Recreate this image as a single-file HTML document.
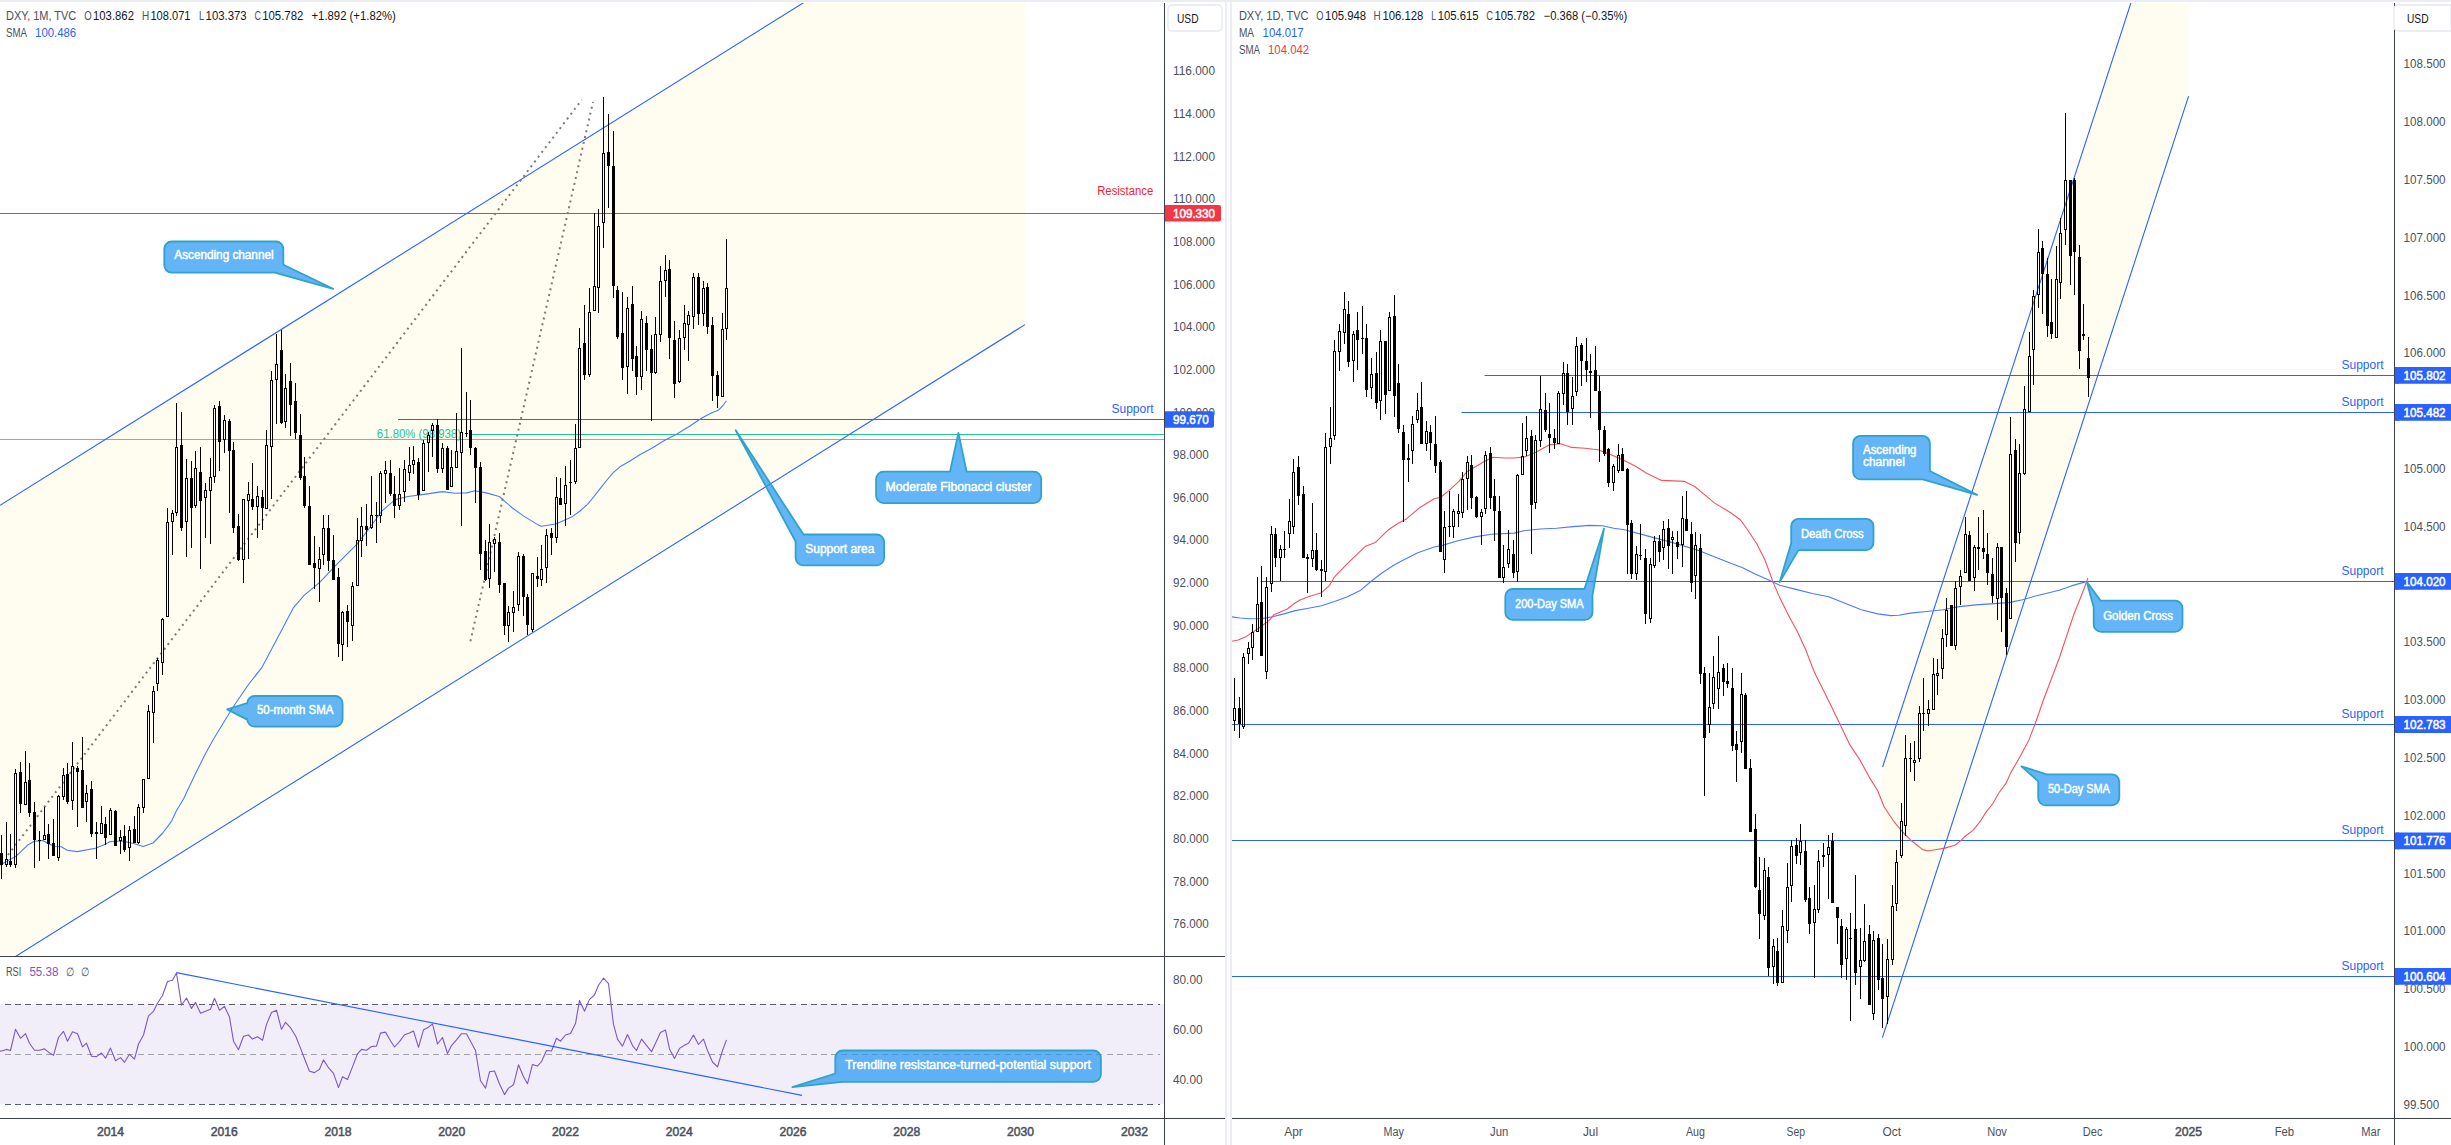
<!DOCTYPE html><html><head><meta charset="utf-8"><title>DXY</title><style>html,body{margin:0;padding:0;background:#fff}svg{display:block}</style></head><body><svg width="2451" height="1145" viewBox="0 0 2451 1145" font-family="'Liberation Sans', sans-serif">
<rect width="2451" height="1145" fill="#fff"/>
<defs><clipPath id="cl"><rect x="0" y="3" width="1164" height="953"/></clipPath><clipPath id="cr"><rect x="1232" y="3" width="1162" height="1115"/></clipPath><clipPath id="crsi"><rect x="0" y="957" width="1164" height="161"/></clipPath></defs>
<g clip-path="url(#cl)">
<polygon points="0,505.4 1025,-135.8 1025,324.6 0,966.2" fill="#fffdf0"/>
<rect x="0.0" y="213" width="1164.0" height="1" fill="#f23645"/>
<rect x="0.0" y="439" width="1164.0" height="1" fill="#8bc34a"/>
<rect x="471.6" y="434" width="692.4" height="1" fill="#26c29a"/>
<rect x="398.0" y="419" width="766.0" height="1" fill="#2962ff"/>
<line x1="0.0" y1="505.4" x2="820.0" y2="-7.6" stroke="#2962ff" stroke-width="1.1"/>
<line x1="0.0" y1="966.2" x2="1025.0" y2="324.6" stroke="#2962ff" stroke-width="1.1"/>
<line x1="8.0" y1="855.0" x2="581.8" y2="99.8" stroke="#7b7b7b" stroke-width="2" stroke-dasharray="2 4"/>
<line x1="470.4" y1="641.2" x2="593.0" y2="102.0" stroke="#7b7b7b" stroke-width="2" stroke-dasharray="2 4"/>
<text x="376.8" y="437.8" font-size="12" fill="#26c29a" font-weight="normal" text-anchor="start" textLength="84.2" lengthAdjust="spacingAndGlyphs">61.80% (98.938)</text>
<polyline points="0.0,865.1 15.9,856.3 28.2,844.7 34.3,841.3 42.8,840.6 49.0,844.0 55.0,846.5 61.2,846.7 67.3,850.2 77.1,851.6 95.5,848.3 105.3,844.3 110.2,841.6 122.4,841.0 134.6,843.8 143.2,846.5 153.0,843.0 162.8,833.0 171.4,821.4 176.3,811.0 183.6,798.8 194.6,775.5 205.6,753.5 213.0,740.0 232.6,707.7 248.5,684.5 262.0,667.3 282.0,629.5 293.5,607.6 304.1,595.3 319.7,582.3 336.0,565.1 357.2,543.9 368.7,529.2 381.7,511.2 394.8,499.8 407.9,496.5 425.8,494.1 442.2,491.6 455.2,493.3 466.7,492.9 474.8,490.8 486.3,492.9 499.3,496.5 512.4,508.0 523.8,516.1 538.5,525.1 541.2,526.2 555.9,524.0 571.6,517.1 580.0,511.0 587.5,504.3 594.0,496.5 600.3,488.4 606.5,480.5 613.0,472.9 620.8,466.2 630.0,461.0 640.2,454.5 651.4,448.5 664.3,440.5 677.0,434.0 689.5,426.2 702.3,417.8 711.8,412.8 718.2,410.3 723.0,405.5 726.4,400.8" fill="none" stroke="#4a7bff" stroke-width="1.1" stroke-linejoin="round"/>
<g shape-rendering="crispEdges">
<rect x="1" y="835" width="1" height="18" fill="#000"/>
<rect x="1" y="865" width="1" height="14" fill="#000"/>
<rect x="0" y="853" width="3" height="12" fill="#000"/>
<rect x="6" y="822" width="1" height="37" fill="#000"/>
<rect x="6" y="865" width="1" height="2" fill="#000"/>
<rect x="5.5" y="859.5" width="2" height="5" fill="none" stroke="#000" stroke-width="1"/>
<rect x="10" y="834" width="1" height="27" fill="#000"/>
<rect x="10" y="865" width="1" height="2" fill="#000"/>
<rect x="9" y="861" width="3" height="4" fill="#000"/>
<rect x="15" y="769" width="1" height="4" fill="#000"/>
<rect x="15" y="865" width="1" height="3" fill="#000"/>
<rect x="14.5" y="773.5" width="2" height="91" fill="none" stroke="#000" stroke-width="1"/>
<rect x="20" y="762" width="1" height="10" fill="#000"/>
<rect x="20" y="804" width="1" height="9" fill="#000"/>
<rect x="19" y="772" width="3" height="32" fill="#000"/>
<rect x="25" y="751" width="1" height="31" fill="#000"/>
<rect x="24.5" y="782.5" width="2" height="22" fill="none" stroke="#000" stroke-width="1"/>
<rect x="29" y="763" width="1" height="17" fill="#000"/>
<rect x="29" y="813" width="1" height="4" fill="#000"/>
<rect x="28" y="780" width="3" height="33" fill="#000"/>
<rect x="34" y="802" width="1" height="10" fill="#000"/>
<rect x="34" y="840" width="1" height="28" fill="#000"/>
<rect x="33" y="812" width="3" height="28" fill="#000"/>
<rect x="39" y="831" width="1" height="9" fill="#000"/>
<rect x="39" y="841" width="1" height="20" fill="#000"/>
<rect x="38" y="840" width="3" height="1" fill="#000"/>
<rect x="44" y="807" width="1" height="28" fill="#000"/>
<rect x="43.5" y="835.5" width="2" height="4" fill="none" stroke="#000" stroke-width="1"/>
<rect x="48" y="824" width="1" height="10" fill="#000"/>
<rect x="48" y="844" width="1" height="15" fill="#000"/>
<rect x="47" y="834" width="3" height="10" fill="#000"/>
<rect x="53" y="819" width="1" height="24" fill="#000"/>
<rect x="52" y="843" width="3" height="13" fill="#000"/>
<rect x="58" y="795" width="1" height="1" fill="#000"/>
<rect x="58" y="858" width="1" height="3" fill="#000"/>
<rect x="57.5" y="796.5" width="2" height="61" fill="none" stroke="#000" stroke-width="1"/>
<rect x="63" y="768" width="1" height="7" fill="#000"/>
<rect x="63" y="797" width="1" height="3" fill="#000"/>
<rect x="62.5" y="775.5" width="2" height="21" fill="none" stroke="#000" stroke-width="1"/>
<rect x="67" y="763" width="1" height="11" fill="#000"/>
<rect x="67" y="802" width="1" height="2" fill="#000"/>
<rect x="66" y="774" width="3" height="28" fill="#000"/>
<rect x="72" y="742" width="1" height="24" fill="#000"/>
<rect x="72" y="801" width="1" height="9" fill="#000"/>
<rect x="71.5" y="766.5" width="2" height="34" fill="none" stroke="#000" stroke-width="1"/>
<rect x="77" y="766" width="1" height="2" fill="#000"/>
<rect x="77" y="772" width="1" height="55" fill="#000"/>
<rect x="76" y="768" width="3" height="4" fill="#000"/>
<rect x="82" y="737" width="1" height="33" fill="#000"/>
<rect x="81" y="770" width="3" height="38" fill="#000"/>
<rect x="86" y="785" width="1" height="8" fill="#000"/>
<rect x="86" y="802" width="1" height="20" fill="#000"/>
<rect x="85.5" y="793.5" width="2" height="8" fill="none" stroke="#000" stroke-width="1"/>
<rect x="91" y="781" width="1" height="8" fill="#000"/>
<rect x="91" y="834" width="1" height="3" fill="#000"/>
<rect x="90" y="789" width="3" height="45" fill="#000"/>
<rect x="96" y="822" width="1" height="10" fill="#000"/>
<rect x="96" y="834" width="1" height="25" fill="#000"/>
<rect x="95" y="832" width="3" height="2" fill="#000"/>
<rect x="101" y="806" width="1" height="17" fill="#000"/>
<rect x="100.5" y="823.5" width="2" height="10" fill="none" stroke="#000" stroke-width="1"/>
<rect x="105" y="817" width="1" height="7" fill="#000"/>
<rect x="105" y="838" width="1" height="7" fill="#000"/>
<rect x="104" y="824" width="3" height="14" fill="#000"/>
<rect x="110" y="808" width="1" height="2" fill="#000"/>
<rect x="109.5" y="810.5" width="2" height="24" fill="none" stroke="#000" stroke-width="1"/>
<rect x="115" y="810" width="1" height="1" fill="#000"/>
<rect x="114" y="811" width="3" height="35" fill="#000"/>
<rect x="120" y="830" width="1" height="7" fill="#000"/>
<rect x="120" y="841" width="1" height="13" fill="#000"/>
<rect x="119.5" y="837.5" width="2" height="3" fill="none" stroke="#000" stroke-width="1"/>
<rect x="124" y="825" width="1" height="11" fill="#000"/>
<rect x="124" y="850" width="1" height="2" fill="#000"/>
<rect x="123" y="836" width="3" height="14" fill="#000"/>
<rect x="129" y="826" width="1" height="4" fill="#000"/>
<rect x="129" y="848" width="1" height="13" fill="#000"/>
<rect x="128.5" y="830.5" width="2" height="17" fill="none" stroke="#000" stroke-width="1"/>
<rect x="134" y="816" width="1" height="13" fill="#000"/>
<rect x="133" y="829" width="3" height="14" fill="#000"/>
<rect x="138" y="804" width="1" height="3" fill="#000"/>
<rect x="138" y="843" width="1" height="1" fill="#000"/>
<rect x="137.5" y="807.5" width="2" height="35" fill="none" stroke="#000" stroke-width="1"/>
<rect x="143" y="808" width="1" height="5" fill="#000"/>
<rect x="142.5" y="779.5" width="2" height="28" fill="none" stroke="#000" stroke-width="1"/>
<rect x="148" y="705" width="1" height="6" fill="#000"/>
<rect x="147.5" y="711.5" width="2" height="67" fill="none" stroke="#000" stroke-width="1"/>
<rect x="153" y="686" width="1" height="5" fill="#000"/>
<rect x="153" y="713" width="1" height="30" fill="#000"/>
<rect x="152.5" y="691.5" width="2" height="21" fill="none" stroke="#000" stroke-width="1"/>
<rect x="157" y="658" width="1" height="2" fill="#000"/>
<rect x="157" y="684" width="1" height="7" fill="#000"/>
<rect x="156.5" y="660.5" width="2" height="23" fill="none" stroke="#000" stroke-width="1"/>
<rect x="162" y="618" width="1" height="1" fill="#000"/>
<rect x="162" y="663" width="1" height="12" fill="#000"/>
<rect x="161.5" y="619.5" width="2" height="43" fill="none" stroke="#000" stroke-width="1"/>
<rect x="167" y="508" width="1" height="14" fill="#000"/>
<rect x="166.5" y="522.5" width="2" height="94" fill="none" stroke="#000" stroke-width="1"/>
<rect x="172" y="510" width="1" height="3" fill="#000"/>
<rect x="172" y="522" width="1" height="33" fill="#000"/>
<rect x="171.5" y="513.5" width="2" height="8" fill="none" stroke="#000" stroke-width="1"/>
<rect x="176" y="403" width="1" height="44" fill="#000"/>
<rect x="176" y="513" width="1" height="3" fill="#000"/>
<rect x="175.5" y="447.5" width="2" height="65" fill="none" stroke="#000" stroke-width="1"/>
<rect x="181" y="412" width="1" height="33" fill="#000"/>
<rect x="181" y="528" width="1" height="3" fill="#000"/>
<rect x="180" y="445" width="3" height="83" fill="#000"/>
<rect x="186" y="459" width="1" height="19" fill="#000"/>
<rect x="186" y="522" width="1" height="35" fill="#000"/>
<rect x="185.5" y="478.5" width="2" height="43" fill="none" stroke="#000" stroke-width="1"/>
<rect x="191" y="461" width="1" height="17" fill="#000"/>
<rect x="191" y="508" width="1" height="40" fill="#000"/>
<rect x="190" y="478" width="3" height="30" fill="#000"/>
<rect x="195" y="451" width="1" height="17" fill="#000"/>
<rect x="195" y="506" width="1" height="2" fill="#000"/>
<rect x="194.5" y="468.5" width="2" height="37" fill="none" stroke="#000" stroke-width="1"/>
<rect x="200" y="447" width="1" height="25" fill="#000"/>
<rect x="200" y="501" width="1" height="68" fill="#000"/>
<rect x="199" y="472" width="3" height="29" fill="#000"/>
<rect x="205" y="483" width="1" height="7" fill="#000"/>
<rect x="205" y="498" width="1" height="40" fill="#000"/>
<rect x="204.5" y="490.5" width="2" height="7" fill="none" stroke="#000" stroke-width="1"/>
<rect x="210" y="458" width="1" height="19" fill="#000"/>
<rect x="210" y="491" width="1" height="53" fill="#000"/>
<rect x="209.5" y="477.5" width="2" height="13" fill="none" stroke="#000" stroke-width="1"/>
<rect x="214" y="405" width="1" height="3" fill="#000"/>
<rect x="214" y="477" width="1" height="6" fill="#000"/>
<rect x="213.5" y="408.5" width="2" height="68" fill="none" stroke="#000" stroke-width="1"/>
<rect x="219" y="401" width="1" height="5" fill="#000"/>
<rect x="219" y="442" width="1" height="29" fill="#000"/>
<rect x="218" y="406" width="3" height="36" fill="#000"/>
<rect x="224" y="415" width="1" height="5" fill="#000"/>
<rect x="224" y="440" width="1" height="13" fill="#000"/>
<rect x="223.5" y="420.5" width="2" height="19" fill="none" stroke="#000" stroke-width="1"/>
<rect x="229" y="419" width="1" height="2" fill="#000"/>
<rect x="229" y="451" width="1" height="62" fill="#000"/>
<rect x="228" y="421" width="3" height="30" fill="#000"/>
<rect x="233" y="442" width="1" height="8" fill="#000"/>
<rect x="233" y="528" width="1" height="5" fill="#000"/>
<rect x="232" y="450" width="3" height="78" fill="#000"/>
<rect x="238" y="514" width="1" height="12" fill="#000"/>
<rect x="238" y="560" width="1" height="1" fill="#000"/>
<rect x="237" y="526" width="3" height="34" fill="#000"/>
<rect x="243" y="560" width="1" height="23" fill="#000"/>
<rect x="242.5" y="499.5" width="2" height="60" fill="none" stroke="#000" stroke-width="1"/>
<rect x="248" y="482" width="1" height="12" fill="#000"/>
<rect x="248" y="501" width="1" height="58" fill="#000"/>
<rect x="247.5" y="494.5" width="2" height="6" fill="none" stroke="#000" stroke-width="1"/>
<rect x="252" y="463" width="1" height="36" fill="#000"/>
<rect x="252" y="507" width="1" height="3" fill="#000"/>
<rect x="251" y="499" width="3" height="8" fill="#000"/>
<rect x="257" y="486" width="1" height="10" fill="#000"/>
<rect x="257" y="507" width="1" height="31" fill="#000"/>
<rect x="256.5" y="496.5" width="2" height="10" fill="none" stroke="#000" stroke-width="1"/>
<rect x="262" y="490" width="1" height="7" fill="#000"/>
<rect x="262" y="508" width="1" height="22" fill="#000"/>
<rect x="261" y="497" width="3" height="11" fill="#000"/>
<rect x="266" y="430" width="1" height="15" fill="#000"/>
<rect x="265.5" y="445.5" width="2" height="63" fill="none" stroke="#000" stroke-width="1"/>
<rect x="271" y="371" width="1" height="9" fill="#000"/>
<rect x="271" y="447" width="1" height="52" fill="#000"/>
<rect x="270.5" y="380.5" width="2" height="66" fill="none" stroke="#000" stroke-width="1"/>
<rect x="276" y="334" width="1" height="30" fill="#000"/>
<rect x="276" y="380" width="1" height="44" fill="#000"/>
<rect x="275.5" y="364.5" width="2" height="15" fill="none" stroke="#000" stroke-width="1"/>
<rect x="281" y="330" width="1" height="20" fill="#000"/>
<rect x="281" y="423" width="1" height="1" fill="#000"/>
<rect x="280" y="350" width="3" height="73" fill="#000"/>
<rect x="285" y="374" width="1" height="14" fill="#000"/>
<rect x="285" y="422" width="1" height="6" fill="#000"/>
<rect x="284.5" y="388.5" width="2" height="33" fill="none" stroke="#000" stroke-width="1"/>
<rect x="290" y="363" width="1" height="18" fill="#000"/>
<rect x="290" y="405" width="1" height="31" fill="#000"/>
<rect x="289" y="381" width="3" height="24" fill="#000"/>
<rect x="295" y="383" width="1" height="18" fill="#000"/>
<rect x="295" y="433" width="1" height="6" fill="#000"/>
<rect x="294" y="401" width="3" height="32" fill="#000"/>
<rect x="300" y="414" width="1" height="21" fill="#000"/>
<rect x="300" y="478" width="1" height="2" fill="#000"/>
<rect x="299" y="435" width="3" height="43" fill="#000"/>
<rect x="304" y="457" width="1" height="19" fill="#000"/>
<rect x="304" y="506" width="1" height="2" fill="#000"/>
<rect x="303" y="476" width="3" height="30" fill="#000"/>
<rect x="309" y="486" width="1" height="20" fill="#000"/>
<rect x="308" y="506" width="3" height="59" fill="#000"/>
<rect x="314" y="536" width="1" height="27" fill="#000"/>
<rect x="314" y="568" width="1" height="21" fill="#000"/>
<rect x="313" y="563" width="3" height="5" fill="#000"/>
<rect x="319" y="547" width="1" height="12" fill="#000"/>
<rect x="319" y="569" width="1" height="33" fill="#000"/>
<rect x="318.5" y="559.5" width="2" height="9" fill="none" stroke="#000" stroke-width="1"/>
<rect x="323" y="515" width="1" height="13" fill="#000"/>
<rect x="323" y="555" width="1" height="10" fill="#000"/>
<rect x="322.5" y="528.5" width="2" height="26" fill="none" stroke="#000" stroke-width="1"/>
<rect x="328" y="515" width="1" height="13" fill="#000"/>
<rect x="328" y="561" width="1" height="10" fill="#000"/>
<rect x="327" y="528" width="3" height="33" fill="#000"/>
<rect x="333" y="535" width="1" height="25" fill="#000"/>
<rect x="332" y="560" width="3" height="20" fill="#000"/>
<rect x="338" y="568" width="1" height="9" fill="#000"/>
<rect x="338" y="644" width="1" height="13" fill="#000"/>
<rect x="337" y="577" width="3" height="67" fill="#000"/>
<rect x="342" y="611" width="1" height="1" fill="#000"/>
<rect x="342" y="645" width="1" height="16" fill="#000"/>
<rect x="341.5" y="612.5" width="2" height="32" fill="none" stroke="#000" stroke-width="1"/>
<rect x="347" y="605" width="1" height="6" fill="#000"/>
<rect x="347" y="622" width="1" height="25" fill="#000"/>
<rect x="346" y="611" width="3" height="11" fill="#000"/>
<rect x="352" y="582" width="1" height="4" fill="#000"/>
<rect x="352" y="626" width="1" height="15" fill="#000"/>
<rect x="351.5" y="586.5" width="2" height="39" fill="none" stroke="#000" stroke-width="1"/>
<rect x="357" y="518" width="1" height="22" fill="#000"/>
<rect x="356.5" y="540.5" width="2" height="45" fill="none" stroke="#000" stroke-width="1"/>
<rect x="361" y="507" width="1" height="19" fill="#000"/>
<rect x="361" y="541" width="1" height="16" fill="#000"/>
<rect x="360.5" y="526.5" width="2" height="14" fill="none" stroke="#000" stroke-width="1"/>
<rect x="366" y="504" width="1" height="22" fill="#000"/>
<rect x="366" y="530" width="1" height="16" fill="#000"/>
<rect x="365" y="526" width="3" height="4" fill="#000"/>
<rect x="371" y="476" width="1" height="39" fill="#000"/>
<rect x="371" y="528" width="1" height="1" fill="#000"/>
<rect x="370.5" y="515.5" width="2" height="12" fill="none" stroke="#000" stroke-width="1"/>
<rect x="376" y="502" width="1" height="13" fill="#000"/>
<rect x="376" y="516" width="1" height="27" fill="#000"/>
<rect x="375" y="515" width="3" height="1" fill="#000"/>
<rect x="380" y="471" width="1" height="2" fill="#000"/>
<rect x="380" y="516" width="1" height="7" fill="#000"/>
<rect x="379.5" y="473.5" width="2" height="42" fill="none" stroke="#000" stroke-width="1"/>
<rect x="385" y="461" width="1" height="9" fill="#000"/>
<rect x="385" y="474" width="1" height="29" fill="#000"/>
<rect x="384.5" y="470.5" width="2" height="3" fill="none" stroke="#000" stroke-width="1"/>
<rect x="390" y="460" width="1" height="13" fill="#000"/>
<rect x="390" y="494" width="1" height="2" fill="#000"/>
<rect x="389" y="473" width="3" height="21" fill="#000"/>
<rect x="394" y="476" width="1" height="18" fill="#000"/>
<rect x="394" y="506" width="1" height="12" fill="#000"/>
<rect x="393" y="494" width="3" height="12" fill="#000"/>
<rect x="399" y="468" width="1" height="26" fill="#000"/>
<rect x="399" y="506" width="1" height="4" fill="#000"/>
<rect x="398.5" y="494.5" width="2" height="11" fill="none" stroke="#000" stroke-width="1"/>
<rect x="404" y="460" width="1" height="9" fill="#000"/>
<rect x="404" y="492" width="1" height="10" fill="#000"/>
<rect x="403.5" y="469.5" width="2" height="22" fill="none" stroke="#000" stroke-width="1"/>
<rect x="409" y="447" width="1" height="18" fill="#000"/>
<rect x="409" y="473" width="1" height="8" fill="#000"/>
<rect x="408.5" y="465.5" width="2" height="7" fill="none" stroke="#000" stroke-width="1"/>
<rect x="413" y="446" width="1" height="14" fill="#000"/>
<rect x="413" y="465" width="1" height="9" fill="#000"/>
<rect x="412.5" y="460.5" width="2" height="4" fill="none" stroke="#000" stroke-width="1"/>
<rect x="418" y="458" width="1" height="4" fill="#000"/>
<rect x="418" y="495" width="1" height="5" fill="#000"/>
<rect x="417" y="462" width="3" height="33" fill="#000"/>
<rect x="423" y="440" width="1" height="3" fill="#000"/>
<rect x="422.5" y="443.5" width="2" height="47" fill="none" stroke="#000" stroke-width="1"/>
<rect x="428" y="432" width="1" height="3" fill="#000"/>
<rect x="428" y="443" width="1" height="29" fill="#000"/>
<rect x="427.5" y="435.5" width="2" height="7" fill="none" stroke="#000" stroke-width="1"/>
<rect x="432" y="423" width="1" height="2" fill="#000"/>
<rect x="432" y="431" width="1" height="26" fill="#000"/>
<rect x="431.5" y="425.5" width="2" height="5" fill="none" stroke="#000" stroke-width="1"/>
<rect x="437" y="419" width="1" height="6" fill="#000"/>
<rect x="437" y="469" width="1" height="4" fill="#000"/>
<rect x="436" y="425" width="3" height="44" fill="#000"/>
<rect x="442" y="443" width="1" height="5" fill="#000"/>
<rect x="442" y="469" width="1" height="4" fill="#000"/>
<rect x="441.5" y="448.5" width="2" height="20" fill="none" stroke="#000" stroke-width="1"/>
<rect x="447" y="446" width="1" height="2" fill="#000"/>
<rect x="446" y="448" width="3" height="42" fill="#000"/>
<rect x="451" y="450" width="1" height="17" fill="#000"/>
<rect x="450.5" y="467.5" width="2" height="19" fill="none" stroke="#000" stroke-width="1"/>
<rect x="456" y="413" width="1" height="38" fill="#000"/>
<rect x="455.5" y="451.5" width="2" height="16" fill="none" stroke="#000" stroke-width="1"/>
<rect x="461" y="348" width="1" height="84" fill="#000"/>
<rect x="461" y="453" width="1" height="73" fill="#000"/>
<rect x="460.5" y="432.5" width="2" height="20" fill="none" stroke="#000" stroke-width="1"/>
<rect x="466" y="392" width="1" height="41" fill="#000"/>
<rect x="466" y="434" width="1" height="3" fill="#000"/>
<rect x="465" y="433" width="3" height="1" fill="#000"/>
<rect x="470" y="400" width="1" height="30" fill="#000"/>
<rect x="470" y="448" width="1" height="7" fill="#000"/>
<rect x="469" y="430" width="3" height="18" fill="#000"/>
<rect x="475" y="447" width="1" height="1" fill="#000"/>
<rect x="475" y="468" width="1" height="35" fill="#000"/>
<rect x="474" y="448" width="3" height="20" fill="#000"/>
<rect x="480" y="462" width="1" height="5" fill="#000"/>
<rect x="480" y="554" width="1" height="16" fill="#000"/>
<rect x="479" y="467" width="3" height="87" fill="#000"/>
<rect x="485" y="540" width="1" height="11" fill="#000"/>
<rect x="485" y="580" width="1" height="1" fill="#000"/>
<rect x="484" y="551" width="3" height="29" fill="#000"/>
<rect x="489" y="524" width="1" height="18" fill="#000"/>
<rect x="489" y="579" width="1" height="9" fill="#000"/>
<rect x="488.5" y="542.5" width="2" height="36" fill="none" stroke="#000" stroke-width="1"/>
<rect x="494" y="537" width="1" height="2" fill="#000"/>
<rect x="494" y="544" width="1" height="28" fill="#000"/>
<rect x="493.5" y="539.5" width="2" height="4" fill="none" stroke="#000" stroke-width="1"/>
<rect x="499" y="533" width="1" height="9" fill="#000"/>
<rect x="499" y="585" width="1" height="8" fill="#000"/>
<rect x="498" y="542" width="3" height="43" fill="#000"/>
<rect x="504" y="626" width="1" height="9" fill="#000"/>
<rect x="503" y="583" width="3" height="43" fill="#000"/>
<rect x="508" y="606" width="1" height="6" fill="#000"/>
<rect x="508" y="626" width="1" height="16" fill="#000"/>
<rect x="507.5" y="612.5" width="2" height="13" fill="none" stroke="#000" stroke-width="1"/>
<rect x="513" y="591" width="1" height="16" fill="#000"/>
<rect x="513" y="613" width="1" height="19" fill="#000"/>
<rect x="512.5" y="607.5" width="2" height="5" fill="none" stroke="#000" stroke-width="1"/>
<rect x="518" y="552" width="1" height="4" fill="#000"/>
<rect x="518" y="605" width="1" height="6" fill="#000"/>
<rect x="517.5" y="556.5" width="2" height="48" fill="none" stroke="#000" stroke-width="1"/>
<rect x="523" y="554" width="1" height="2" fill="#000"/>
<rect x="523" y="597" width="1" height="19" fill="#000"/>
<rect x="522" y="556" width="3" height="41" fill="#000"/>
<rect x="527" y="594" width="1" height="3" fill="#000"/>
<rect x="527" y="625" width="1" height="10" fill="#000"/>
<rect x="526" y="597" width="3" height="28" fill="#000"/>
<rect x="532" y="630" width="1" height="2" fill="#000"/>
<rect x="531.5" y="573.5" width="2" height="56" fill="none" stroke="#000" stroke-width="1"/>
<rect x="537" y="557" width="1" height="19" fill="#000"/>
<rect x="537" y="579" width="1" height="8" fill="#000"/>
<rect x="536" y="576" width="3" height="3" fill="#000"/>
<rect x="541" y="545" width="1" height="24" fill="#000"/>
<rect x="541" y="580" width="1" height="6" fill="#000"/>
<rect x="540.5" y="569.5" width="2" height="10" fill="none" stroke="#000" stroke-width="1"/>
<rect x="546" y="529" width="1" height="6" fill="#000"/>
<rect x="546" y="568" width="1" height="15" fill="#000"/>
<rect x="545.5" y="535.5" width="2" height="32" fill="none" stroke="#000" stroke-width="1"/>
<rect x="551" y="528" width="1" height="5" fill="#000"/>
<rect x="551" y="538" width="1" height="17" fill="#000"/>
<rect x="550" y="533" width="3" height="5" fill="#000"/>
<rect x="556" y="477" width="1" height="20" fill="#000"/>
<rect x="556" y="538" width="1" height="5" fill="#000"/>
<rect x="555.5" y="497.5" width="2" height="40" fill="none" stroke="#000" stroke-width="1"/>
<rect x="560" y="478" width="1" height="20" fill="#000"/>
<rect x="559" y="498" width="3" height="7" fill="#000"/>
<rect x="565" y="466" width="1" height="19" fill="#000"/>
<rect x="565" y="504" width="1" height="22" fill="#000"/>
<rect x="564.5" y="485.5" width="2" height="18" fill="none" stroke="#000" stroke-width="1"/>
<rect x="570" y="460" width="1" height="22" fill="#000"/>
<rect x="570" y="483" width="1" height="32" fill="#000"/>
<rect x="569" y="482" width="3" height="1" fill="#000"/>
<rect x="575" y="424" width="1" height="24" fill="#000"/>
<rect x="575" y="482" width="1" height="2" fill="#000"/>
<rect x="574.5" y="448.5" width="2" height="33" fill="none" stroke="#000" stroke-width="1"/>
<rect x="579" y="328" width="1" height="20" fill="#000"/>
<rect x="578.5" y="348.5" width="2" height="99" fill="none" stroke="#000" stroke-width="1"/>
<rect x="584" y="305" width="1" height="38" fill="#000"/>
<rect x="584" y="375" width="1" height="5" fill="#000"/>
<rect x="583" y="343" width="3" height="32" fill="#000"/>
<rect x="589" y="288" width="1" height="24" fill="#000"/>
<rect x="589" y="375" width="1" height="2" fill="#000"/>
<rect x="588.5" y="312.5" width="2" height="62" fill="none" stroke="#000" stroke-width="1"/>
<rect x="594" y="213" width="1" height="73" fill="#000"/>
<rect x="593.5" y="286.5" width="2" height="24" fill="none" stroke="#000" stroke-width="1"/>
<rect x="598" y="209" width="1" height="17" fill="#000"/>
<rect x="598" y="288" width="1" height="25" fill="#000"/>
<rect x="597.5" y="226.5" width="2" height="61" fill="none" stroke="#000" stroke-width="1"/>
<rect x="603" y="97" width="1" height="56" fill="#000"/>
<rect x="603" y="223" width="1" height="25" fill="#000"/>
<rect x="602.5" y="153.5" width="2" height="69" fill="none" stroke="#000" stroke-width="1"/>
<rect x="608" y="114" width="1" height="38" fill="#000"/>
<rect x="608" y="166" width="1" height="42" fill="#000"/>
<rect x="607" y="152" width="3" height="14" fill="#000"/>
<rect x="613" y="131" width="1" height="35" fill="#000"/>
<rect x="613" y="286" width="1" height="12" fill="#000"/>
<rect x="612" y="166" width="3" height="120" fill="#000"/>
<rect x="617" y="286" width="1" height="4" fill="#000"/>
<rect x="617" y="337" width="1" height="2" fill="#000"/>
<rect x="616" y="290" width="3" height="47" fill="#000"/>
<rect x="622" y="292" width="1" height="41" fill="#000"/>
<rect x="622" y="368" width="1" height="12" fill="#000"/>
<rect x="621" y="333" width="3" height="35" fill="#000"/>
<rect x="627" y="297" width="1" height="11" fill="#000"/>
<rect x="627" y="367" width="1" height="27" fill="#000"/>
<rect x="626.5" y="308.5" width="2" height="58" fill="none" stroke="#000" stroke-width="1"/>
<rect x="632" y="286" width="1" height="18" fill="#000"/>
<rect x="632" y="359" width="1" height="12" fill="#000"/>
<rect x="631" y="304" width="3" height="55" fill="#000"/>
<rect x="636" y="346" width="1" height="10" fill="#000"/>
<rect x="636" y="377" width="1" height="18" fill="#000"/>
<rect x="635" y="356" width="3" height="21" fill="#000"/>
<rect x="641" y="311" width="1" height="8" fill="#000"/>
<rect x="641" y="377" width="1" height="13" fill="#000"/>
<rect x="640.5" y="319.5" width="2" height="57" fill="none" stroke="#000" stroke-width="1"/>
<rect x="646" y="316" width="1" height="7" fill="#000"/>
<rect x="646" y="350" width="1" height="21" fill="#000"/>
<rect x="645" y="323" width="3" height="27" fill="#000"/>
<rect x="651" y="335" width="1" height="14" fill="#000"/>
<rect x="651" y="373" width="1" height="48" fill="#000"/>
<rect x="650" y="349" width="3" height="24" fill="#000"/>
<rect x="655" y="317" width="1" height="17" fill="#000"/>
<rect x="655" y="373" width="1" height="1" fill="#000"/>
<rect x="654.5" y="334.5" width="2" height="38" fill="none" stroke="#000" stroke-width="1"/>
<rect x="660" y="266" width="1" height="15" fill="#000"/>
<rect x="660" y="335" width="1" height="7" fill="#000"/>
<rect x="659.5" y="281.5" width="2" height="53" fill="none" stroke="#000" stroke-width="1"/>
<rect x="665" y="255" width="1" height="15" fill="#000"/>
<rect x="665" y="281" width="1" height="16" fill="#000"/>
<rect x="664.5" y="270.5" width="2" height="10" fill="none" stroke="#000" stroke-width="1"/>
<rect x="669" y="260" width="1" height="9" fill="#000"/>
<rect x="669" y="338" width="1" height="21" fill="#000"/>
<rect x="668" y="269" width="3" height="69" fill="#000"/>
<rect x="674" y="321" width="1" height="19" fill="#000"/>
<rect x="674" y="384" width="1" height="14" fill="#000"/>
<rect x="673" y="340" width="3" height="44" fill="#000"/>
<rect x="679" y="330" width="1" height="8" fill="#000"/>
<rect x="679" y="382" width="1" height="1" fill="#000"/>
<rect x="678.5" y="338.5" width="2" height="43" fill="none" stroke="#000" stroke-width="1"/>
<rect x="684" y="305" width="1" height="18" fill="#000"/>
<rect x="684" y="338" width="1" height="12" fill="#000"/>
<rect x="683.5" y="323.5" width="2" height="14" fill="none" stroke="#000" stroke-width="1"/>
<rect x="688" y="311" width="1" height="4" fill="#000"/>
<rect x="688" y="325" width="1" height="36" fill="#000"/>
<rect x="687.5" y="315.5" width="2" height="9" fill="none" stroke="#000" stroke-width="1"/>
<rect x="693" y="273" width="1" height="4" fill="#000"/>
<rect x="693" y="317" width="1" height="12" fill="#000"/>
<rect x="692.5" y="277.5" width="2" height="39" fill="none" stroke="#000" stroke-width="1"/>
<rect x="698" y="273" width="1" height="4" fill="#000"/>
<rect x="698" y="314" width="1" height="11" fill="#000"/>
<rect x="697" y="277" width="3" height="37" fill="#000"/>
<rect x="703" y="281" width="1" height="7" fill="#000"/>
<rect x="703" y="314" width="1" height="12" fill="#000"/>
<rect x="702.5" y="288.5" width="2" height="25" fill="none" stroke="#000" stroke-width="1"/>
<rect x="707" y="283" width="1" height="4" fill="#000"/>
<rect x="707" y="327" width="1" height="7" fill="#000"/>
<rect x="706" y="287" width="3" height="40" fill="#000"/>
<rect x="712" y="317" width="1" height="8" fill="#000"/>
<rect x="712" y="376" width="1" height="25" fill="#000"/>
<rect x="711" y="325" width="3" height="51" fill="#000"/>
<rect x="717" y="371" width="1" height="4" fill="#000"/>
<rect x="717" y="396" width="1" height="12" fill="#000"/>
<rect x="716" y="375" width="3" height="21" fill="#000"/>
<rect x="722" y="313" width="1" height="16" fill="#000"/>
<rect x="721.5" y="329.5" width="2" height="67" fill="none" stroke="#000" stroke-width="1"/>
<rect x="726" y="239" width="1" height="49" fill="#000"/>
<rect x="726" y="329" width="1" height="11" fill="#000"/>
<rect x="725.5" y="288.5" width="2" height="40" fill="none" stroke="#000" stroke-width="1"/>
</g>
</g>
<text x="1097.2" y="194.8" font-size="12" fill="#f5222d" font-weight="normal" text-anchor="start" textLength="56.0" lengthAdjust="spacingAndGlyphs">Resistance</text>
<text x="1111.5" y="413.0" font-size="12" fill="#2962ff" font-weight="normal" text-anchor="start" textLength="42.0" lengthAdjust="spacingAndGlyphs">Support</text>
<path d="M274.8,272.7 L171.8,272.7 A7.5,7.5 0 0 1 164.3,265.2 L164.3,249.0 A7.5,7.5 0 0 1 171.8,241.5 L275.8,241.5 A7.5,7.5 0 0 1 283.3,249.0 L283.3,264.7 L333.1,288.8 Z" fill="rgba(33,150,243,0.7)" stroke="#2fa3c9" stroke-width="1.8" stroke-linejoin="round"/>
<text x="174.3" y="259.3" font-size="12" fill="#fff" font-weight="normal" text-anchor="start" textLength="99.3" lengthAdjust="spacingAndGlyphs" stroke="#fff" stroke-width="0.45">Ascending channel</text>
<path d="M247.2,703.0 L247.2,703.5 A7.5,7.5 0 0 1 254.7,696.0 L335.1,696.0 A7.5,7.5 0 0 1 342.6,703.5 L342.6,719.1 A7.5,7.5 0 0 1 335.1,726.6 L254.7,726.6 A7.5,7.5 0 0 1 247.2,719.1 L247.2,719.6 L227.2,709.4 Z" fill="rgba(33,150,243,0.7)" stroke="#2fa3c9" stroke-width="1.8" stroke-linejoin="round"/>
<text x="256.9" y="714.2" font-size="12" fill="#fff" font-weight="normal" text-anchor="start" textLength="76.5" lengthAdjust="spacingAndGlyphs" stroke="#fff" stroke-width="0.45">50-month SMA</text>
<path d="M803.5,534.5 L876.6,534.5 A7.5,7.5 0 0 1 884.1,542.0 L884.1,557.8 A7.5,7.5 0 0 1 876.6,565.3 L803.1,565.3 A7.5,7.5 0 0 1 795.6,557.8 L795.6,541.5 L735.7,430.2 Z" fill="rgba(33,150,243,0.7)" stroke="#2fa3c9" stroke-width="1.8" stroke-linejoin="round"/>
<text x="805.3" y="553.2" font-size="12" fill="#fff" font-weight="normal" text-anchor="start" textLength="69.0" lengthAdjust="spacingAndGlyphs" stroke="#fff" stroke-width="0.45">Support area</text>
<path d="M966.6,471.7 L1033.7,471.7 A7.5,7.5 0 0 1 1041.2,479.2 L1041.2,495.6 A7.5,7.5 0 0 1 1033.7,503.1 L883.6,503.1 A7.5,7.5 0 0 1 876.1,495.6 L876.1,479.2 A7.5,7.5 0 0 1 883.6,471.7 L950.0,471.7 L958.4,432.9 Z" fill="rgba(33,150,243,0.7)" stroke="#2fa3c9" stroke-width="1.8" stroke-linejoin="round"/>
<text x="885.5" y="490.7" font-size="12" fill="#fff" font-weight="normal" text-anchor="start" textLength="146.0" lengthAdjust="spacingAndGlyphs" stroke="#fff" stroke-width="0.45">Moderate Fibonacci cluster</text>
<g clip-path="url(#crsi)">
<rect x="0" y="1004" width="1164" height="100" fill="#f2eef9"/>
<line x1="5.0" y1="1004.3" x2="1160.0" y2="1004.3" stroke="#5a5d68" stroke-width="1" stroke-dasharray="6 4.2" shape-rendering="crispEdges"/>
<line x1="5.0" y1="1054.3" x2="1160.0" y2="1054.3" stroke="#a0a2aa" stroke-width="1" stroke-dasharray="6 4.2" shape-rendering="crispEdges"/>
<line x1="5.0" y1="1104.4" x2="1160.0" y2="1104.4" stroke="#5a5d68" stroke-width="1" stroke-dasharray="6 4.2" shape-rendering="crispEdges"/>
<polyline points="-3.0,1051.3 1.5,1051.0 6.5,1049.4 10.5,1050.5 15.5,1029.3 20.5,1038.3 25.5,1033.7 29.5,1043.2 34.5,1050.2 39.5,1050.2 44.5,1048.9 48.5,1052.2 53.5,1055.4 58.5,1037.5 63.5,1031.4 67.5,1041.2 72.5,1031.8 77.5,1033.7 82.5,1046.8 86.5,1043.2 91.5,1056.3 96.5,1056.6 101.5,1053.0 105.5,1058.2 110.5,1048.1 115.5,1060.7 120.5,1057.6 124.5,1062.3 129.5,1054.3 134.5,1059.2 138.5,1044.0 143.5,1035.0 148.5,1015.8 153.5,1011.3 157.5,1003.2 162.5,995.5 167.5,981.5 172.5,980.3 176.5,973.0 181.5,1005.3 186.5,998.0 191.5,1008.4 195.5,1002.4 200.5,1013.3 205.5,1011.3 210.5,1009.2 214.5,998.3 219.5,1010.2 224.5,1006.4 229.5,1017.1 233.5,1041.2 238.5,1049.7 243.5,1036.2 248.5,1035.0 252.5,1039.1 257.5,1036.7 262.5,1040.3 266.5,1024.4 271.5,1012.5 276.5,1010.2 281.5,1029.3 285.5,1022.3 290.5,1027.7 295.5,1035.8 300.5,1048.1 304.5,1058.7 309.5,1071.3 314.5,1072.6 319.5,1069.3 323.5,1059.9 328.5,1067.7 333.5,1073.4 338.5,1087.6 342.5,1076.7 347.5,1079.5 352.5,1066.9 357.5,1053.8 361.5,1049.4 366.5,1050.2 371.5,1046.5 376.5,1046.1 380.5,1033.1 385.5,1032.1 390.5,1040.7 394.5,1047.0 399.5,1041.6 404.5,1034.7 409.5,1033.1 413.5,1030.9 418.5,1047.3 423.5,1029.8 428.5,1027.2 432.5,1023.9 437.5,1044.0 442.5,1037.5 447.5,1053.5 451.5,1045.6 456.5,1039.9 461.5,1033.7 466.5,1033.7 470.5,1041.2 475.5,1050.5 480.5,1080.8 485.5,1088.1 489.5,1071.8 494.5,1071.0 499.5,1084.0 504.5,1094.6 508.5,1088.1 513.5,1084.8 518.5,1064.8 523.5,1076.7 527.5,1083.7 532.5,1064.4 537.5,1066.1 541.5,1061.5 546.5,1050.5 551.5,1051.0 556.5,1038.3 560.5,1041.2 565.5,1035.0 570.5,1033.4 575.5,1023.6 579.5,1000.4 584.5,1011.3 589.5,999.4 594.5,995.0 598.5,985.2 603.5,978.2 608.5,983.6 613.5,1024.4 617.5,1039.1 622.5,1046.1 627.5,1034.5 632.5,1045.6 636.5,1050.5 641.5,1039.1 646.5,1045.3 651.5,1051.7 655.5,1043.2 660.5,1032.6 665.5,1030.1 669.5,1048.9 674.5,1058.4 679.5,1048.4 684.5,1045.3 688.5,1043.2 693.5,1035.0 698.5,1044.5 703.5,1039.1 707.5,1050.5 712.5,1062.0 717.5,1066.9 722.5,1050.5 726.5,1039.9" fill="none" stroke="#7e57c2" stroke-width="1.1" stroke-linejoin="round"/>
<line x1="176.4" y1="972.6" x2="802.1" y2="1095.4" stroke="#2962ff" stroke-width="1.1"/>
</g>
<path d="M835.3,1073.5 L835.3,1058.0 A7.5,7.5 0 0 1 842.8,1050.5 L1093.4,1050.5 A7.5,7.5 0 0 1 1100.9,1058.0 L1100.9,1074.3 A7.5,7.5 0 0 1 1093.4,1081.8 L842.3,1081.8 L792.3,1087.2 Z" fill="rgba(33,150,243,0.7)" stroke="#2fa3c9" stroke-width="1.8" stroke-linejoin="round"/>
<text x="845.2" y="1069.0" font-size="12" fill="#fff" font-weight="normal" text-anchor="start" textLength="245.8" lengthAdjust="spacingAndGlyphs" stroke="#fff" stroke-width="0.45">Trendline resistance-turned-potential support</text>
<text x="6.0" y="976.0" font-size="12" fill="#4c505b" font-weight="normal" text-anchor="start" textLength="15.3" lengthAdjust="spacingAndGlyphs">RSI</text>
<text x="29.4" y="976.0" font-size="12" fill="#7e57c2" font-weight="normal" text-anchor="start" textLength="29.0" lengthAdjust="spacingAndGlyphs">55.38</text>
<text x="66.0" y="976.0" font-size="12" fill="#4c505b" font-weight="normal" text-anchor="start" textLength="8.0" lengthAdjust="spacingAndGlyphs">∅</text>
<text x="81.0" y="976.0" font-size="12" fill="#4c505b" font-weight="normal" text-anchor="start" textLength="8.0" lengthAdjust="spacingAndGlyphs">∅</text>
<text x="6.0" y="20.2" font-size="12" fill="#4c505b" font-weight="normal" text-anchor="start" textLength="70.3" lengthAdjust="spacingAndGlyphs">DXY, 1M, TVC</text>
<text x="84.3" y="20.2" font-size="12" fill="#4c505b" font-weight="normal" text-anchor="start" textLength="7.4" lengthAdjust="spacingAndGlyphs">O</text>
<text x="93.0" y="20.2" font-size="12" fill="#131722" font-weight="normal" text-anchor="start" textLength="41.0" lengthAdjust="spacingAndGlyphs">103.862</text>
<text x="141.9" y="20.2" font-size="12" fill="#4c505b" font-weight="normal" text-anchor="start" textLength="7.2" lengthAdjust="spacingAndGlyphs">H</text>
<text x="150.4" y="20.2" font-size="12" fill="#131722" font-weight="normal" text-anchor="start" textLength="40.1" lengthAdjust="spacingAndGlyphs">108.071</text>
<text x="199.0" y="20.2" font-size="12" fill="#4c505b" font-weight="normal" text-anchor="start" textLength="5.2" lengthAdjust="spacingAndGlyphs">L</text>
<text x="205.6" y="20.2" font-size="12" fill="#131722" font-weight="normal" text-anchor="start" textLength="41.1" lengthAdjust="spacingAndGlyphs">103.373</text>
<text x="254.5" y="20.2" font-size="12" fill="#4c505b" font-weight="normal" text-anchor="start" textLength="6.4" lengthAdjust="spacingAndGlyphs">C</text>
<text x="262.2" y="20.2" font-size="12" fill="#131722" font-weight="normal" text-anchor="start" textLength="41.1" lengthAdjust="spacingAndGlyphs">105.782</text>
<text x="311.5" y="20.2" font-size="12" fill="#131722" font-weight="normal" text-anchor="start" textLength="84.3" lengthAdjust="spacingAndGlyphs">+1.892 (+1.82%)</text>
<text x="6.0" y="36.8" font-size="12" fill="#4c505b" font-weight="normal" text-anchor="start" textLength="21.0" lengthAdjust="spacingAndGlyphs">SMA</text>
<text x="35.1" y="36.8" font-size="12" fill="#2962ff" font-weight="normal" text-anchor="start" textLength="41.1" lengthAdjust="spacingAndGlyphs">100.486</text>
<g shape-rendering="crispEdges">
<rect x="1164" y="3" width="1" height="1142" fill="#3c404b"/>
<rect x="0" y="956" width="1225" height="1" fill="#3c404b"/>
<rect x="0" y="1118" width="1225" height="1" fill="#3c404b"/>
</g>
<text x="1173.0" y="75.3" font-size="12" fill="#4c505b" font-weight="normal" text-anchor="start" textLength="42.0" lengthAdjust="spacingAndGlyphs">116.000</text>
<text x="1173.0" y="118.0" font-size="12" fill="#4c505b" font-weight="normal" text-anchor="start" textLength="42.0" lengthAdjust="spacingAndGlyphs">114.000</text>
<text x="1173.0" y="160.6" font-size="12" fill="#4c505b" font-weight="normal" text-anchor="start" textLength="42.0" lengthAdjust="spacingAndGlyphs">112.000</text>
<text x="1173.0" y="203.2" font-size="12" fill="#4c505b" font-weight="normal" text-anchor="start" textLength="42.0" lengthAdjust="spacingAndGlyphs">110.000</text>
<text x="1173.0" y="245.9" font-size="12" fill="#4c505b" font-weight="normal" text-anchor="start" textLength="42.0" lengthAdjust="spacingAndGlyphs">108.000</text>
<text x="1173.0" y="288.6" font-size="12" fill="#4c505b" font-weight="normal" text-anchor="start" textLength="42.0" lengthAdjust="spacingAndGlyphs">106.000</text>
<text x="1173.0" y="331.2" font-size="12" fill="#4c505b" font-weight="normal" text-anchor="start" textLength="42.0" lengthAdjust="spacingAndGlyphs">104.000</text>
<text x="1173.0" y="373.9" font-size="12" fill="#4c505b" font-weight="normal" text-anchor="start" textLength="42.0" lengthAdjust="spacingAndGlyphs">102.000</text>
<text x="1173.0" y="416.5" font-size="12" fill="#4c505b" font-weight="normal" text-anchor="start" textLength="42.0" lengthAdjust="spacingAndGlyphs">100.000</text>
<text x="1173.0" y="459.1" font-size="12" fill="#4c505b" font-weight="normal" text-anchor="start" textLength="35.6" lengthAdjust="spacingAndGlyphs">98.000</text>
<text x="1173.0" y="501.8" font-size="12" fill="#4c505b" font-weight="normal" text-anchor="start" textLength="35.6" lengthAdjust="spacingAndGlyphs">96.000</text>
<text x="1173.0" y="544.4" font-size="12" fill="#4c505b" font-weight="normal" text-anchor="start" textLength="35.6" lengthAdjust="spacingAndGlyphs">94.000</text>
<text x="1173.0" y="587.1" font-size="12" fill="#4c505b" font-weight="normal" text-anchor="start" textLength="35.6" lengthAdjust="spacingAndGlyphs">92.000</text>
<text x="1173.0" y="629.7" font-size="12" fill="#4c505b" font-weight="normal" text-anchor="start" textLength="35.6" lengthAdjust="spacingAndGlyphs">90.000</text>
<text x="1173.0" y="672.4" font-size="12" fill="#4c505b" font-weight="normal" text-anchor="start" textLength="35.6" lengthAdjust="spacingAndGlyphs">88.000</text>
<text x="1173.0" y="715.0" font-size="12" fill="#4c505b" font-weight="normal" text-anchor="start" textLength="35.6" lengthAdjust="spacingAndGlyphs">86.000</text>
<text x="1173.0" y="757.7" font-size="12" fill="#4c505b" font-weight="normal" text-anchor="start" textLength="35.6" lengthAdjust="spacingAndGlyphs">84.000</text>
<text x="1173.0" y="800.3" font-size="12" fill="#4c505b" font-weight="normal" text-anchor="start" textLength="35.6" lengthAdjust="spacingAndGlyphs">82.000</text>
<text x="1173.0" y="843.0" font-size="12" fill="#4c505b" font-weight="normal" text-anchor="start" textLength="35.6" lengthAdjust="spacingAndGlyphs">80.000</text>
<text x="1173.0" y="885.6" font-size="12" fill="#4c505b" font-weight="normal" text-anchor="start" textLength="35.6" lengthAdjust="spacingAndGlyphs">78.000</text>
<text x="1173.0" y="928.3" font-size="12" fill="#4c505b" font-weight="normal" text-anchor="start" textLength="35.6" lengthAdjust="spacingAndGlyphs">76.000</text>
<text x="1173.0" y="983.7" font-size="12" fill="#4c505b" font-weight="normal" text-anchor="start" textLength="29.5" lengthAdjust="spacingAndGlyphs">80.00</text>
<text x="1173.0" y="1033.9" font-size="12" fill="#4c505b" font-weight="normal" text-anchor="start" textLength="29.5" lengthAdjust="spacingAndGlyphs">60.00</text>
<text x="1173.0" y="1084.4" font-size="12" fill="#4c505b" font-weight="normal" text-anchor="start" textLength="29.5" lengthAdjust="spacingAndGlyphs">40.00</text>
<rect x="1168" y="5" width="54" height="26" rx="4" ry="4" fill="#fff" stroke="#e6e8ee" stroke-width="1.3"/>
<text x="1177.0" y="23.2" font-size="12" fill="#131722" font-weight="normal" text-anchor="start" textLength="21.5" lengthAdjust="spacingAndGlyphs">USD</text>
<path d="M1165,205 h54 a2,2 0 0 1 2,2 v12.5 a2,2 0 0 1 -2,2 h-54 z" fill="#f23645"/>
<text x="1173.0" y="217.8" font-size="12" fill="#fff" font-weight="normal" text-anchor="start" textLength="42.0" lengthAdjust="spacingAndGlyphs" stroke="#fff" stroke-width="0.5">109.330</text>
<path d="M1165,411.3 h47 a2,2 0 0 1 2,2 v12.5 a2,2 0 0 1 -2,2 h-47 z" fill="#2962ff"/>
<text x="1173.0" y="423.7" font-size="12" fill="#fff" font-weight="normal" text-anchor="start" textLength="35.7" lengthAdjust="spacingAndGlyphs" stroke="#fff" stroke-width="0.5">99.670</text>
<text x="110.4" y="1136.0" font-size="12" fill="#4c505b" font-weight="normal" text-anchor="middle" textLength="27.0" lengthAdjust="spacingAndGlyphs" stroke="#4c505b" stroke-width="0.5">2014</text>
<text x="224.2" y="1136.0" font-size="12" fill="#4c505b" font-weight="normal" text-anchor="middle" textLength="27.0" lengthAdjust="spacingAndGlyphs" stroke="#4c505b" stroke-width="0.5">2016</text>
<text x="338.0" y="1136.0" font-size="12" fill="#4c505b" font-weight="normal" text-anchor="middle" textLength="27.0" lengthAdjust="spacingAndGlyphs" stroke="#4c505b" stroke-width="0.5">2018</text>
<text x="451.7" y="1136.0" font-size="12" fill="#4c505b" font-weight="normal" text-anchor="middle" textLength="27.0" lengthAdjust="spacingAndGlyphs" stroke="#4c505b" stroke-width="0.5">2020</text>
<text x="565.5" y="1136.0" font-size="12" fill="#4c505b" font-weight="normal" text-anchor="middle" textLength="27.0" lengthAdjust="spacingAndGlyphs" stroke="#4c505b" stroke-width="0.5">2022</text>
<text x="679.3" y="1136.0" font-size="12" fill="#4c505b" font-weight="normal" text-anchor="middle" textLength="27.0" lengthAdjust="spacingAndGlyphs" stroke="#4c505b" stroke-width="0.5">2024</text>
<text x="793.1" y="1136.0" font-size="12" fill="#4c505b" font-weight="normal" text-anchor="middle" textLength="27.0" lengthAdjust="spacingAndGlyphs" stroke="#4c505b" stroke-width="0.5">2026</text>
<text x="906.8" y="1136.0" font-size="12" fill="#4c505b" font-weight="normal" text-anchor="middle" textLength="27.0" lengthAdjust="spacingAndGlyphs" stroke="#4c505b" stroke-width="0.5">2028</text>
<text x="1020.6" y="1136.0" font-size="12" fill="#4c505b" font-weight="normal" text-anchor="middle" textLength="27.0" lengthAdjust="spacingAndGlyphs" stroke="#4c505b" stroke-width="0.5">2030</text>
<text x="1134.4" y="1136.0" font-size="12" fill="#4c505b" font-weight="normal" text-anchor="middle" textLength="27.0" lengthAdjust="spacingAndGlyphs" stroke="#4c505b" stroke-width="0.5">2032</text>
<rect x="1225" y="0" width="2" height="1145" fill="#eceef3"/>
<rect x="1230" y="0" width="2" height="1145" fill="#eceef3"/>
<rect x="0" y="0" width="2451" height="2" fill="#ecedf2"/>
<g clip-path="url(#cr)">
<polygon points="1882.5,767.3 2188.6,-174.6 2188.6,96.1 1882.5,1037.4" fill="#fffdf0"/>
<rect x="1484.6" y="375" width="909.4" height="1" fill="#2962ff"/>
<rect x="1461.5" y="412" width="932.5" height="1" fill="#2962ff"/>
<rect x="1260.5" y="581" width="1133.5" height="1" fill="#2962ff"/>
<rect x="1232.0" y="724" width="1162.0" height="1" fill="#2962ff"/>
<rect x="1232.0" y="840" width="1162.0" height="1" fill="#2962ff"/>
<rect x="1232.0" y="976" width="1162.0" height="1" fill="#2962ff"/>
<line x1="1882.6" y1="767.0" x2="2135.0" y2="-9.6" stroke="#2962ff" stroke-width="1.1"/>
<line x1="1882.4" y1="1037.7" x2="2188.6" y2="96.1" stroke="#2962ff" stroke-width="1.1"/>
<polyline points="1231.6,616.8 1239.8,618.0 1249.6,618.8 1262.7,618.5 1272.5,616.8 1283.9,613.9 1295.3,610.6 1308.4,608.2 1321.5,605.7 1334.5,601.6 1347.6,596.7 1360.7,590.2 1372.1,580.5 1381.9,573.0 1393.3,565.5 1401.5,560.9 1417.8,552.7 1434.2,547.0 1442.3,545.4 1458.7,540.5 1475.0,536.9 1491.3,534.3 1514.2,533.1 1524.0,530.7 1540.3,529.0 1556.7,528.2 1573.0,526.6 1589.3,525.4 1602.4,525.8 1613.8,528.2 1624.5,529.8 1649.0,536.4 1673.5,542.9 1698.0,550.2 1714.3,556.8 1730.7,563.3 1742.1,567.4 1755.2,573.9 1771.5,581.3 1779.7,585.3 1796.0,589.4 1812.3,593.5 1828.7,596.8 1845.0,603.3 1861.3,609.8 1877.7,613.9 1890.7,615.6 1898.9,615.2 1910.3,613.1 1926.7,611.5 1943.0,609.8 1959.3,606.6 1975.7,604.9 1997.9,603.4 2010.2,602.4 2022.4,599.7 2034.6,596.3 2046.9,593.2 2059.1,590.2 2071.4,585.9 2086.0,581.6" fill="none" stroke="#4a7bff" stroke-width="1.1" stroke-linejoin="round"/>
<polyline points="1231.6,641.3 1238.2,640.0 1246.3,636.4 1254.5,631.0 1262.7,625.3 1269.2,620.4 1274.1,614.7 1287.2,609.0 1295.3,602.8 1300.2,600.0 1308.4,596.7 1321.5,592.7 1329.6,585.3 1334.5,576.8 1347.6,563.3 1365.6,546.2 1375.4,542.4 1388.4,529.8 1398.2,523.3 1406.4,518.9 1419.5,507.8 1434.2,498.8 1440.7,497.2 1448.9,490.6 1458.7,481.7 1466.8,471.9 1475.0,467.0 1484.8,461.2 1493.0,457.2 1504.4,458.0 1514.2,458.0 1524.5,456.9 1535.9,452.3 1549.0,444.9 1560.4,443.8 1571.9,447.4 1584.9,448.2 1598.0,449.8 1611.1,454.7 1624.1,460.5 1635.6,466.2 1647.0,473.5 1661.7,480.4 1673.1,480.9 1684.6,481.4 1694.7,486.5 1704.5,494.7 1714.3,502.9 1730.7,512.7 1740.5,520.0 1747.0,529.0 1756.8,543.7 1765.0,560.0 1773.1,582.1 1779.7,597.6 1789.5,617.2 1797.6,631.9 1805.8,649.9 1812.3,667.0 1815.6,674.7 1823.8,691.0 1831.9,707.4 1840.1,724.5 1849.9,744.9 1859.7,759.6 1869.5,777.6 1877.7,790.7 1884.2,807.0 1894.0,821.7 1902.2,831.5 1910.3,839.7 1918.5,846.2 1922.2,849.4 1927.9,851.0 1935.2,849.7 1945.0,848.1 1954.8,845.3 1961.4,840.1 1964.5,836.8 1973.0,830.4 1980.4,821.2 1986.5,811.4 1992.6,804.0 1998.8,793.0 2006.1,783.2 2010.4,773.4 2019.6,757.5 2028.7,740.4 2034.9,724.5 2043.4,700.0 2059.1,658.5 2073.8,614.5 2083.6,590.0 2087.9,577.9" fill="none" stroke="#f4525f" stroke-width="1.1" stroke-linejoin="round"/>
<g shape-rendering="crispEdges">
<rect x="1234" y="678" width="1" height="30" fill="#000"/>
<rect x="1234" y="721" width="1" height="10" fill="#000"/>
<rect x="1233.5" y="708.5" width="2" height="12" fill="none" stroke="#000" stroke-width="1"/>
<rect x="1239" y="697" width="1" height="11" fill="#000"/>
<rect x="1239" y="724" width="1" height="14" fill="#000"/>
<rect x="1238" y="708" width="3" height="16" fill="#000"/>
<rect x="1243" y="653" width="1" height="4" fill="#000"/>
<rect x="1243" y="727" width="1" height="2" fill="#000"/>
<rect x="1242.5" y="657.5" width="2" height="69" fill="none" stroke="#000" stroke-width="1"/>
<rect x="1248" y="642" width="1" height="6" fill="#000"/>
<rect x="1248" y="654" width="1" height="10" fill="#000"/>
<rect x="1247.5" y="648.5" width="2" height="5" fill="none" stroke="#000" stroke-width="1"/>
<rect x="1252" y="624" width="1" height="8" fill="#000"/>
<rect x="1252" y="648" width="1" height="12" fill="#000"/>
<rect x="1251.5" y="632.5" width="2" height="15" fill="none" stroke="#000" stroke-width="1"/>
<rect x="1257" y="577" width="1" height="27" fill="#000"/>
<rect x="1256.5" y="604.5" width="2" height="27" fill="none" stroke="#000" stroke-width="1"/>
<rect x="1261" y="566" width="1" height="36" fill="#000"/>
<rect x="1260" y="602" width="3" height="54" fill="#000"/>
<rect x="1266" y="577" width="1" height="10" fill="#000"/>
<rect x="1266" y="672" width="1" height="7" fill="#000"/>
<rect x="1265.5" y="587.5" width="2" height="84" fill="none" stroke="#000" stroke-width="1"/>
<rect x="1271" y="526" width="1" height="8" fill="#000"/>
<rect x="1271" y="584" width="1" height="8" fill="#000"/>
<rect x="1270.5" y="534.5" width="2" height="49" fill="none" stroke="#000" stroke-width="1"/>
<rect x="1275" y="528" width="1" height="6" fill="#000"/>
<rect x="1275" y="558" width="1" height="9" fill="#000"/>
<rect x="1274" y="534" width="3" height="24" fill="#000"/>
<rect x="1280" y="545" width="1" height="4" fill="#000"/>
<rect x="1280" y="558" width="1" height="23" fill="#000"/>
<rect x="1279.5" y="549.5" width="2" height="8" fill="none" stroke="#000" stroke-width="1"/>
<rect x="1284" y="531" width="1" height="18" fill="#000"/>
<rect x="1284" y="550" width="1" height="8" fill="#000"/>
<rect x="1283" y="549" width="3" height="1" fill="#000"/>
<rect x="1289" y="499" width="1" height="22" fill="#000"/>
<rect x="1289" y="534" width="1" height="14" fill="#000"/>
<rect x="1288.5" y="521.5" width="2" height="12" fill="none" stroke="#000" stroke-width="1"/>
<rect x="1293" y="459" width="1" height="13" fill="#000"/>
<rect x="1293" y="527" width="1" height="7" fill="#000"/>
<rect x="1292.5" y="472.5" width="2" height="54" fill="none" stroke="#000" stroke-width="1"/>
<rect x="1298" y="456" width="1" height="11" fill="#000"/>
<rect x="1298" y="496" width="1" height="9" fill="#000"/>
<rect x="1297" y="467" width="3" height="29" fill="#000"/>
<rect x="1303" y="486" width="1" height="8" fill="#000"/>
<rect x="1302" y="494" width="3" height="64" fill="#000"/>
<rect x="1307" y="554" width="1" height="3" fill="#000"/>
<rect x="1307" y="559" width="1" height="34" fill="#000"/>
<rect x="1306" y="557" width="3" height="2" fill="#000"/>
<rect x="1312" y="503" width="1" height="47" fill="#000"/>
<rect x="1312" y="559" width="1" height="8" fill="#000"/>
<rect x="1311.5" y="550.5" width="2" height="8" fill="none" stroke="#000" stroke-width="1"/>
<rect x="1316" y="533" width="1" height="17" fill="#000"/>
<rect x="1316" y="570" width="1" height="1" fill="#000"/>
<rect x="1315" y="550" width="3" height="20" fill="#000"/>
<rect x="1321" y="560" width="1" height="9" fill="#000"/>
<rect x="1321" y="571" width="1" height="26" fill="#000"/>
<rect x="1320" y="569" width="3" height="2" fill="#000"/>
<rect x="1325" y="433" width="1" height="14" fill="#000"/>
<rect x="1325" y="572" width="1" height="9" fill="#000"/>
<rect x="1324.5" y="447.5" width="2" height="124" fill="none" stroke="#000" stroke-width="1"/>
<rect x="1330" y="407" width="1" height="31" fill="#000"/>
<rect x="1330" y="447" width="1" height="17" fill="#000"/>
<rect x="1329.5" y="438.5" width="2" height="8" fill="none" stroke="#000" stroke-width="1"/>
<rect x="1334" y="340" width="1" height="11" fill="#000"/>
<rect x="1334" y="436" width="1" height="4" fill="#000"/>
<rect x="1333.5" y="351.5" width="2" height="84" fill="none" stroke="#000" stroke-width="1"/>
<rect x="1339" y="324" width="1" height="7" fill="#000"/>
<rect x="1339" y="352" width="1" height="19" fill="#000"/>
<rect x="1338.5" y="331.5" width="2" height="20" fill="none" stroke="#000" stroke-width="1"/>
<rect x="1344" y="292" width="1" height="17" fill="#000"/>
<rect x="1344" y="333" width="1" height="11" fill="#000"/>
<rect x="1343.5" y="309.5" width="2" height="23" fill="none" stroke="#000" stroke-width="1"/>
<rect x="1348" y="301" width="1" height="13" fill="#000"/>
<rect x="1348" y="362" width="1" height="5" fill="#000"/>
<rect x="1347" y="314" width="3" height="48" fill="#000"/>
<rect x="1353" y="331" width="1" height="3" fill="#000"/>
<rect x="1353" y="361" width="1" height="21" fill="#000"/>
<rect x="1352.5" y="334.5" width="2" height="26" fill="none" stroke="#000" stroke-width="1"/>
<rect x="1357" y="312" width="1" height="18" fill="#000"/>
<rect x="1357" y="340" width="1" height="30" fill="#000"/>
<rect x="1356" y="330" width="3" height="10" fill="#000"/>
<rect x="1362" y="306" width="1" height="32" fill="#000"/>
<rect x="1362" y="339" width="1" height="15" fill="#000"/>
<rect x="1361" y="338" width="3" height="1" fill="#000"/>
<rect x="1366" y="324" width="1" height="14" fill="#000"/>
<rect x="1366" y="390" width="1" height="7" fill="#000"/>
<rect x="1365" y="338" width="3" height="52" fill="#000"/>
<rect x="1371" y="358" width="1" height="16" fill="#000"/>
<rect x="1371" y="388" width="1" height="11" fill="#000"/>
<rect x="1370.5" y="374.5" width="2" height="13" fill="none" stroke="#000" stroke-width="1"/>
<rect x="1376" y="352" width="1" height="21" fill="#000"/>
<rect x="1376" y="403" width="1" height="6" fill="#000"/>
<rect x="1375" y="373" width="3" height="30" fill="#000"/>
<rect x="1380" y="330" width="1" height="11" fill="#000"/>
<rect x="1380" y="401" width="1" height="19" fill="#000"/>
<rect x="1379.5" y="341.5" width="2" height="59" fill="none" stroke="#000" stroke-width="1"/>
<rect x="1385" y="395" width="1" height="19" fill="#000"/>
<rect x="1384" y="341" width="3" height="54" fill="#000"/>
<rect x="1389" y="312" width="1" height="5" fill="#000"/>
<rect x="1388.5" y="317.5" width="2" height="73" fill="none" stroke="#000" stroke-width="1"/>
<rect x="1394" y="295" width="1" height="21" fill="#000"/>
<rect x="1394" y="396" width="1" height="21" fill="#000"/>
<rect x="1393" y="316" width="3" height="80" fill="#000"/>
<rect x="1398" y="364" width="1" height="19" fill="#000"/>
<rect x="1398" y="429" width="1" height="4" fill="#000"/>
<rect x="1397" y="383" width="3" height="46" fill="#000"/>
<rect x="1403" y="425" width="1" height="7" fill="#000"/>
<rect x="1403" y="460" width="1" height="62" fill="#000"/>
<rect x="1402" y="432" width="3" height="28" fill="#000"/>
<rect x="1408" y="444" width="1" height="14" fill="#000"/>
<rect x="1408" y="460" width="1" height="22" fill="#000"/>
<rect x="1407" y="458" width="3" height="2" fill="#000"/>
<rect x="1412" y="416" width="1" height="8" fill="#000"/>
<rect x="1412" y="451" width="1" height="13" fill="#000"/>
<rect x="1411.5" y="424.5" width="2" height="26" fill="none" stroke="#000" stroke-width="1"/>
<rect x="1417" y="393" width="1" height="17" fill="#000"/>
<rect x="1417" y="420" width="1" height="3" fill="#000"/>
<rect x="1416.5" y="410.5" width="2" height="9" fill="none" stroke="#000" stroke-width="1"/>
<rect x="1421" y="382" width="1" height="25" fill="#000"/>
<rect x="1420" y="407" width="3" height="37" fill="#000"/>
<rect x="1426" y="421" width="1" height="10" fill="#000"/>
<rect x="1426" y="444" width="1" height="7" fill="#000"/>
<rect x="1425.5" y="431.5" width="2" height="12" fill="none" stroke="#000" stroke-width="1"/>
<rect x="1430" y="425" width="1" height="7" fill="#000"/>
<rect x="1430" y="443" width="1" height="17" fill="#000"/>
<rect x="1429" y="432" width="3" height="11" fill="#000"/>
<rect x="1435" y="416" width="1" height="28" fill="#000"/>
<rect x="1435" y="466" width="1" height="7" fill="#000"/>
<rect x="1434" y="444" width="3" height="22" fill="#000"/>
<rect x="1440" y="460" width="1" height="2" fill="#000"/>
<rect x="1439" y="462" width="3" height="90" fill="#000"/>
<rect x="1444" y="511" width="1" height="16" fill="#000"/>
<rect x="1444" y="560" width="1" height="13" fill="#000"/>
<rect x="1443.5" y="527.5" width="2" height="32" fill="none" stroke="#000" stroke-width="1"/>
<rect x="1449" y="491" width="1" height="35" fill="#000"/>
<rect x="1449" y="527" width="1" height="10" fill="#000"/>
<rect x="1448" y="526" width="3" height="1" fill="#000"/>
<rect x="1453" y="509" width="1" height="2" fill="#000"/>
<rect x="1453" y="527" width="1" height="11" fill="#000"/>
<rect x="1452.5" y="511.5" width="2" height="15" fill="none" stroke="#000" stroke-width="1"/>
<rect x="1458" y="494" width="1" height="17" fill="#000"/>
<rect x="1458" y="514" width="1" height="13" fill="#000"/>
<rect x="1457.5" y="511.5" width="2" height="2" fill="none" stroke="#000" stroke-width="1"/>
<rect x="1462" y="472" width="1" height="7" fill="#000"/>
<rect x="1462" y="513" width="1" height="5" fill="#000"/>
<rect x="1461.5" y="479.5" width="2" height="33" fill="none" stroke="#000" stroke-width="1"/>
<rect x="1467" y="456" width="1" height="6" fill="#000"/>
<rect x="1467" y="479" width="1" height="31" fill="#000"/>
<rect x="1466.5" y="462.5" width="2" height="16" fill="none" stroke="#000" stroke-width="1"/>
<rect x="1471" y="455" width="1" height="10" fill="#000"/>
<rect x="1471" y="498" width="1" height="11" fill="#000"/>
<rect x="1470" y="465" width="3" height="33" fill="#000"/>
<rect x="1476" y="496" width="1" height="1" fill="#000"/>
<rect x="1476" y="517" width="1" height="1" fill="#000"/>
<rect x="1475" y="497" width="3" height="20" fill="#000"/>
<rect x="1481" y="509" width="1" height="3" fill="#000"/>
<rect x="1481" y="517" width="1" height="28" fill="#000"/>
<rect x="1480.5" y="512.5" width="2" height="4" fill="none" stroke="#000" stroke-width="1"/>
<rect x="1485" y="451" width="1" height="4" fill="#000"/>
<rect x="1485" y="509" width="1" height="5" fill="#000"/>
<rect x="1484.5" y="455.5" width="2" height="53" fill="none" stroke="#000" stroke-width="1"/>
<rect x="1490" y="447" width="1" height="6" fill="#000"/>
<rect x="1490" y="498" width="1" height="11" fill="#000"/>
<rect x="1489" y="453" width="3" height="45" fill="#000"/>
<rect x="1494" y="479" width="1" height="17" fill="#000"/>
<rect x="1494" y="511" width="1" height="30" fill="#000"/>
<rect x="1493" y="496" width="3" height="15" fill="#000"/>
<rect x="1499" y="496" width="1" height="15" fill="#000"/>
<rect x="1498" y="511" width="3" height="67" fill="#000"/>
<rect x="1503" y="545" width="1" height="22" fill="#000"/>
<rect x="1503" y="578" width="1" height="5" fill="#000"/>
<rect x="1502.5" y="567.5" width="2" height="10" fill="none" stroke="#000" stroke-width="1"/>
<rect x="1508" y="530" width="1" height="19" fill="#000"/>
<rect x="1508" y="564" width="1" height="4" fill="#000"/>
<rect x="1507.5" y="549.5" width="2" height="14" fill="none" stroke="#000" stroke-width="1"/>
<rect x="1513" y="540" width="1" height="14" fill="#000"/>
<rect x="1513" y="573" width="1" height="5" fill="#000"/>
<rect x="1512" y="554" width="3" height="19" fill="#000"/>
<rect x="1517" y="474" width="1" height="1" fill="#000"/>
<rect x="1517" y="572" width="1" height="10" fill="#000"/>
<rect x="1516.5" y="475.5" width="2" height="96" fill="none" stroke="#000" stroke-width="1"/>
<rect x="1522" y="423" width="1" height="33" fill="#000"/>
<rect x="1521.5" y="456.5" width="2" height="18" fill="none" stroke="#000" stroke-width="1"/>
<rect x="1526" y="416" width="1" height="22" fill="#000"/>
<rect x="1526" y="451" width="1" height="5" fill="#000"/>
<rect x="1525.5" y="438.5" width="2" height="12" fill="none" stroke="#000" stroke-width="1"/>
<rect x="1531" y="430" width="1" height="6" fill="#000"/>
<rect x="1531" y="505" width="1" height="49" fill="#000"/>
<rect x="1530" y="436" width="3" height="69" fill="#000"/>
<rect x="1535" y="435" width="1" height="5" fill="#000"/>
<rect x="1535" y="503" width="1" height="6" fill="#000"/>
<rect x="1534.5" y="440.5" width="2" height="62" fill="none" stroke="#000" stroke-width="1"/>
<rect x="1540" y="376" width="1" height="33" fill="#000"/>
<rect x="1540" y="441" width="1" height="6" fill="#000"/>
<rect x="1539.5" y="409.5" width="2" height="31" fill="none" stroke="#000" stroke-width="1"/>
<rect x="1545" y="393" width="1" height="17" fill="#000"/>
<rect x="1545" y="430" width="1" height="2" fill="#000"/>
<rect x="1544" y="410" width="3" height="20" fill="#000"/>
<rect x="1549" y="403" width="1" height="31" fill="#000"/>
<rect x="1549" y="438" width="1" height="15" fill="#000"/>
<rect x="1548" y="434" width="3" height="4" fill="#000"/>
<rect x="1554" y="429" width="1" height="9" fill="#000"/>
<rect x="1554" y="443" width="1" height="6" fill="#000"/>
<rect x="1553" y="438" width="3" height="5" fill="#000"/>
<rect x="1558" y="391" width="1" height="2" fill="#000"/>
<rect x="1557.5" y="393.5" width="2" height="50" fill="none" stroke="#000" stroke-width="1"/>
<rect x="1563" y="362" width="1" height="11" fill="#000"/>
<rect x="1563" y="394" width="1" height="11" fill="#000"/>
<rect x="1562.5" y="373.5" width="2" height="20" fill="none" stroke="#000" stroke-width="1"/>
<rect x="1567" y="364" width="1" height="9" fill="#000"/>
<rect x="1567" y="412" width="1" height="13" fill="#000"/>
<rect x="1566" y="373" width="3" height="39" fill="#000"/>
<rect x="1572" y="377" width="1" height="19" fill="#000"/>
<rect x="1572" y="409" width="1" height="16" fill="#000"/>
<rect x="1571.5" y="396.5" width="2" height="12" fill="none" stroke="#000" stroke-width="1"/>
<rect x="1576" y="337" width="1" height="9" fill="#000"/>
<rect x="1576" y="392" width="1" height="4" fill="#000"/>
<rect x="1575.5" y="346.5" width="2" height="45" fill="none" stroke="#000" stroke-width="1"/>
<rect x="1581" y="343" width="1" height="2" fill="#000"/>
<rect x="1581" y="361" width="1" height="25" fill="#000"/>
<rect x="1580" y="345" width="3" height="16" fill="#000"/>
<rect x="1586" y="338" width="1" height="23" fill="#000"/>
<rect x="1586" y="370" width="1" height="12" fill="#000"/>
<rect x="1585" y="361" width="3" height="9" fill="#000"/>
<rect x="1590" y="354" width="1" height="17" fill="#000"/>
<rect x="1590" y="373" width="1" height="45" fill="#000"/>
<rect x="1589" y="371" width="3" height="2" fill="#000"/>
<rect x="1595" y="346" width="1" height="24" fill="#000"/>
<rect x="1594" y="370" width="3" height="21" fill="#000"/>
<rect x="1599" y="376" width="1" height="15" fill="#000"/>
<rect x="1599" y="430" width="1" height="32" fill="#000"/>
<rect x="1598" y="391" width="3" height="39" fill="#000"/>
<rect x="1604" y="426" width="1" height="4" fill="#000"/>
<rect x="1604" y="454" width="1" height="2" fill="#000"/>
<rect x="1603" y="430" width="3" height="24" fill="#000"/>
<rect x="1608" y="448" width="1" height="1" fill="#000"/>
<rect x="1608" y="483" width="1" height="4" fill="#000"/>
<rect x="1607" y="449" width="3" height="34" fill="#000"/>
<rect x="1613" y="464" width="1" height="2" fill="#000"/>
<rect x="1613" y="483" width="1" height="8" fill="#000"/>
<rect x="1612.5" y="466.5" width="2" height="16" fill="none" stroke="#000" stroke-width="1"/>
<rect x="1618" y="444" width="1" height="11" fill="#000"/>
<rect x="1618" y="471" width="1" height="2" fill="#000"/>
<rect x="1617.5" y="455.5" width="2" height="15" fill="none" stroke="#000" stroke-width="1"/>
<rect x="1622" y="448" width="1" height="6" fill="#000"/>
<rect x="1621" y="454" width="3" height="17" fill="#000"/>
<rect x="1627" y="468" width="1" height="1" fill="#000"/>
<rect x="1627" y="525" width="1" height="49" fill="#000"/>
<rect x="1626" y="469" width="3" height="56" fill="#000"/>
<rect x="1631" y="520" width="1" height="3" fill="#000"/>
<rect x="1631" y="574" width="1" height="5" fill="#000"/>
<rect x="1630" y="523" width="3" height="51" fill="#000"/>
<rect x="1636" y="546" width="1" height="8" fill="#000"/>
<rect x="1636" y="574" width="1" height="6" fill="#000"/>
<rect x="1635.5" y="554.5" width="2" height="19" fill="none" stroke="#000" stroke-width="1"/>
<rect x="1640" y="524" width="1" height="31" fill="#000"/>
<rect x="1640" y="556" width="1" height="4" fill="#000"/>
<rect x="1639" y="555" width="3" height="1" fill="#000"/>
<rect x="1645" y="549" width="1" height="9" fill="#000"/>
<rect x="1645" y="614" width="1" height="10" fill="#000"/>
<rect x="1644" y="558" width="3" height="56" fill="#000"/>
<rect x="1650" y="558" width="1" height="6" fill="#000"/>
<rect x="1650" y="619" width="1" height="4" fill="#000"/>
<rect x="1649.5" y="564.5" width="2" height="54" fill="none" stroke="#000" stroke-width="1"/>
<rect x="1654" y="536" width="1" height="5" fill="#000"/>
<rect x="1654" y="566" width="1" height="2" fill="#000"/>
<rect x="1653.5" y="541.5" width="2" height="24" fill="none" stroke="#000" stroke-width="1"/>
<rect x="1659" y="535" width="1" height="6" fill="#000"/>
<rect x="1659" y="552" width="1" height="10" fill="#000"/>
<rect x="1658" y="541" width="3" height="11" fill="#000"/>
<rect x="1663" y="521" width="1" height="8" fill="#000"/>
<rect x="1663" y="548" width="1" height="12" fill="#000"/>
<rect x="1662.5" y="529.5" width="2" height="18" fill="none" stroke="#000" stroke-width="1"/>
<rect x="1668" y="519" width="1" height="9" fill="#000"/>
<rect x="1668" y="546" width="1" height="23" fill="#000"/>
<rect x="1667" y="528" width="3" height="18" fill="#000"/>
<rect x="1672" y="531" width="1" height="6" fill="#000"/>
<rect x="1672" y="540" width="1" height="34" fill="#000"/>
<rect x="1671.5" y="537.5" width="2" height="2" fill="none" stroke="#000" stroke-width="1"/>
<rect x="1677" y="531" width="1" height="11" fill="#000"/>
<rect x="1677" y="547" width="1" height="12" fill="#000"/>
<rect x="1676" y="542" width="3" height="5" fill="#000"/>
<rect x="1682" y="496" width="1" height="22" fill="#000"/>
<rect x="1682" y="545" width="1" height="22" fill="#000"/>
<rect x="1681.5" y="518.5" width="2" height="26" fill="none" stroke="#000" stroke-width="1"/>
<rect x="1686" y="491" width="1" height="28" fill="#000"/>
<rect x="1685" y="519" width="3" height="12" fill="#000"/>
<rect x="1691" y="522" width="1" height="12" fill="#000"/>
<rect x="1691" y="583" width="1" height="9" fill="#000"/>
<rect x="1690" y="534" width="3" height="49" fill="#000"/>
<rect x="1695" y="532" width="1" height="13" fill="#000"/>
<rect x="1695" y="576" width="1" height="23" fill="#000"/>
<rect x="1694.5" y="545.5" width="2" height="30" fill="none" stroke="#000" stroke-width="1"/>
<rect x="1700" y="534" width="1" height="14" fill="#000"/>
<rect x="1700" y="674" width="1" height="10" fill="#000"/>
<rect x="1699" y="548" width="3" height="126" fill="#000"/>
<rect x="1704" y="667" width="1" height="6" fill="#000"/>
<rect x="1704" y="738" width="1" height="58" fill="#000"/>
<rect x="1703" y="673" width="3" height="65" fill="#000"/>
<rect x="1709" y="673" width="1" height="34" fill="#000"/>
<rect x="1709" y="725" width="1" height="8" fill="#000"/>
<rect x="1708.5" y="707.5" width="2" height="17" fill="none" stroke="#000" stroke-width="1"/>
<rect x="1713" y="656" width="1" height="21" fill="#000"/>
<rect x="1713" y="704" width="1" height="5" fill="#000"/>
<rect x="1712.5" y="677.5" width="2" height="26" fill="none" stroke="#000" stroke-width="1"/>
<rect x="1718" y="636" width="1" height="36" fill="#000"/>
<rect x="1718" y="689" width="1" height="20" fill="#000"/>
<rect x="1717.5" y="672.5" width="2" height="16" fill="none" stroke="#000" stroke-width="1"/>
<rect x="1723" y="664" width="1" height="4" fill="#000"/>
<rect x="1723" y="682" width="1" height="14" fill="#000"/>
<rect x="1722" y="668" width="3" height="14" fill="#000"/>
<rect x="1727" y="663" width="1" height="18" fill="#000"/>
<rect x="1727" y="684" width="1" height="4" fill="#000"/>
<rect x="1726" y="681" width="3" height="3" fill="#000"/>
<rect x="1732" y="668" width="1" height="20" fill="#000"/>
<rect x="1732" y="746" width="1" height="5" fill="#000"/>
<rect x="1731" y="688" width="3" height="58" fill="#000"/>
<rect x="1736" y="731" width="1" height="13" fill="#000"/>
<rect x="1736" y="750" width="1" height="32" fill="#000"/>
<rect x="1735" y="744" width="3" height="6" fill="#000"/>
<rect x="1741" y="673" width="1" height="21" fill="#000"/>
<rect x="1741" y="742" width="1" height="11" fill="#000"/>
<rect x="1740.5" y="694.5" width="2" height="47" fill="none" stroke="#000" stroke-width="1"/>
<rect x="1745" y="693" width="1" height="2" fill="#000"/>
<rect x="1744" y="695" width="3" height="74" fill="#000"/>
<rect x="1750" y="759" width="1" height="9" fill="#000"/>
<rect x="1749" y="768" width="3" height="64" fill="#000"/>
<rect x="1755" y="814" width="1" height="15" fill="#000"/>
<rect x="1755" y="887" width="1" height="1" fill="#000"/>
<rect x="1754" y="829" width="3" height="58" fill="#000"/>
<rect x="1759" y="857" width="1" height="33" fill="#000"/>
<rect x="1759" y="914" width="1" height="25" fill="#000"/>
<rect x="1758" y="890" width="3" height="24" fill="#000"/>
<rect x="1764" y="858" width="1" height="12" fill="#000"/>
<rect x="1764" y="916" width="1" height="4" fill="#000"/>
<rect x="1763.5" y="870.5" width="2" height="45" fill="none" stroke="#000" stroke-width="1"/>
<rect x="1768" y="867" width="1" height="10" fill="#000"/>
<rect x="1768" y="968" width="1" height="8" fill="#000"/>
<rect x="1767" y="877" width="3" height="91" fill="#000"/>
<rect x="1773" y="939" width="1" height="7" fill="#000"/>
<rect x="1773" y="967" width="1" height="17" fill="#000"/>
<rect x="1772.5" y="946.5" width="2" height="20" fill="none" stroke="#000" stroke-width="1"/>
<rect x="1777" y="938" width="1" height="13" fill="#000"/>
<rect x="1777" y="983" width="1" height="3" fill="#000"/>
<rect x="1776" y="951" width="3" height="32" fill="#000"/>
<rect x="1782" y="910" width="1" height="16" fill="#000"/>
<rect x="1781.5" y="926.5" width="2" height="56" fill="none" stroke="#000" stroke-width="1"/>
<rect x="1787" y="863" width="1" height="24" fill="#000"/>
<rect x="1787" y="931" width="1" height="12" fill="#000"/>
<rect x="1786.5" y="887.5" width="2" height="43" fill="none" stroke="#000" stroke-width="1"/>
<rect x="1791" y="840" width="1" height="6" fill="#000"/>
<rect x="1791" y="886" width="1" height="16" fill="#000"/>
<rect x="1790.5" y="846.5" width="2" height="39" fill="none" stroke="#000" stroke-width="1"/>
<rect x="1796" y="838" width="1" height="7" fill="#000"/>
<rect x="1796" y="856" width="1" height="8" fill="#000"/>
<rect x="1795" y="845" width="3" height="11" fill="#000"/>
<rect x="1800" y="824" width="1" height="17" fill="#000"/>
<rect x="1800" y="853" width="1" height="12" fill="#000"/>
<rect x="1799.5" y="841.5" width="2" height="11" fill="none" stroke="#000" stroke-width="1"/>
<rect x="1805" y="840" width="1" height="11" fill="#000"/>
<rect x="1805" y="900" width="1" height="2" fill="#000"/>
<rect x="1804" y="851" width="3" height="49" fill="#000"/>
<rect x="1809" y="887" width="1" height="11" fill="#000"/>
<rect x="1809" y="924" width="1" height="10" fill="#000"/>
<rect x="1808" y="898" width="3" height="26" fill="#000"/>
<rect x="1814" y="885" width="1" height="24" fill="#000"/>
<rect x="1814" y="923" width="1" height="55" fill="#000"/>
<rect x="1813.5" y="909.5" width="2" height="13" fill="none" stroke="#000" stroke-width="1"/>
<rect x="1818" y="850" width="1" height="11" fill="#000"/>
<rect x="1818" y="910" width="1" height="3" fill="#000"/>
<rect x="1817.5" y="861.5" width="2" height="48" fill="none" stroke="#000" stroke-width="1"/>
<rect x="1823" y="843" width="1" height="12" fill="#000"/>
<rect x="1823" y="857" width="1" height="10" fill="#000"/>
<rect x="1822.5" y="855.5" width="2" height="1" fill="none" stroke="#000" stroke-width="1"/>
<rect x="1828" y="835" width="1" height="12" fill="#000"/>
<rect x="1828" y="855" width="1" height="44" fill="#000"/>
<rect x="1827.5" y="847.5" width="2" height="7" fill="none" stroke="#000" stroke-width="1"/>
<rect x="1832" y="833" width="1" height="8" fill="#000"/>
<rect x="1831" y="841" width="3" height="62" fill="#000"/>
<rect x="1837" y="918" width="1" height="26" fill="#000"/>
<rect x="1836" y="907" width="3" height="11" fill="#000"/>
<rect x="1841" y="919" width="1" height="7" fill="#000"/>
<rect x="1841" y="965" width="1" height="13" fill="#000"/>
<rect x="1840" y="926" width="3" height="39" fill="#000"/>
<rect x="1846" y="927" width="1" height="2" fill="#000"/>
<rect x="1846" y="959" width="1" height="21" fill="#000"/>
<rect x="1845.5" y="929.5" width="2" height="29" fill="none" stroke="#000" stroke-width="1"/>
<rect x="1850" y="913" width="1" height="25" fill="#000"/>
<rect x="1850" y="939" width="1" height="82" fill="#000"/>
<rect x="1849" y="938" width="3" height="1" fill="#000"/>
<rect x="1855" y="875" width="1" height="54" fill="#000"/>
<rect x="1855" y="973" width="1" height="12" fill="#000"/>
<rect x="1854" y="929" width="3" height="44" fill="#000"/>
<rect x="1860" y="928" width="1" height="32" fill="#000"/>
<rect x="1860" y="967" width="1" height="32" fill="#000"/>
<rect x="1859.5" y="960.5" width="2" height="6" fill="none" stroke="#000" stroke-width="1"/>
<rect x="1864" y="904" width="1" height="37" fill="#000"/>
<rect x="1864" y="961" width="1" height="1" fill="#000"/>
<rect x="1863.5" y="941.5" width="2" height="19" fill="none" stroke="#000" stroke-width="1"/>
<rect x="1869" y="925" width="1" height="9" fill="#000"/>
<rect x="1868" y="934" width="3" height="71" fill="#000"/>
<rect x="1873" y="931" width="1" height="9" fill="#000"/>
<rect x="1873" y="1014" width="1" height="6" fill="#000"/>
<rect x="1872.5" y="940.5" width="2" height="73" fill="none" stroke="#000" stroke-width="1"/>
<rect x="1878" y="934" width="1" height="4" fill="#000"/>
<rect x="1878" y="980" width="1" height="10" fill="#000"/>
<rect x="1877" y="938" width="3" height="42" fill="#000"/>
<rect x="1882" y="944" width="1" height="34" fill="#000"/>
<rect x="1882" y="999" width="1" height="29" fill="#000"/>
<rect x="1881" y="978" width="3" height="21" fill="#000"/>
<rect x="1887" y="939" width="1" height="20" fill="#000"/>
<rect x="1887" y="997" width="1" height="27" fill="#000"/>
<rect x="1886.5" y="959.5" width="2" height="37" fill="none" stroke="#000" stroke-width="1"/>
<rect x="1892" y="885" width="1" height="21" fill="#000"/>
<rect x="1892" y="960" width="1" height="5" fill="#000"/>
<rect x="1891.5" y="906.5" width="2" height="53" fill="none" stroke="#000" stroke-width="1"/>
<rect x="1896" y="850" width="1" height="12" fill="#000"/>
<rect x="1896" y="904" width="1" height="7" fill="#000"/>
<rect x="1895.5" y="862.5" width="2" height="41" fill="none" stroke="#000" stroke-width="1"/>
<rect x="1901" y="803" width="1" height="18" fill="#000"/>
<rect x="1901" y="856" width="1" height="2" fill="#000"/>
<rect x="1900.5" y="821.5" width="2" height="34" fill="none" stroke="#000" stroke-width="1"/>
<rect x="1905" y="735" width="1" height="23" fill="#000"/>
<rect x="1905" y="826" width="1" height="10" fill="#000"/>
<rect x="1904.5" y="758.5" width="2" height="67" fill="none" stroke="#000" stroke-width="1"/>
<rect x="1910" y="743" width="1" height="15" fill="#000"/>
<rect x="1910" y="759" width="1" height="13" fill="#000"/>
<rect x="1909" y="758" width="3" height="1" fill="#000"/>
<rect x="1914" y="741" width="1" height="19" fill="#000"/>
<rect x="1914" y="763" width="1" height="18" fill="#000"/>
<rect x="1913.5" y="760.5" width="2" height="2" fill="none" stroke="#000" stroke-width="1"/>
<rect x="1919" y="706" width="1" height="7" fill="#000"/>
<rect x="1919" y="759" width="1" height="3" fill="#000"/>
<rect x="1918.5" y="713.5" width="2" height="45" fill="none" stroke="#000" stroke-width="1"/>
<rect x="1923" y="678" width="1" height="35" fill="#000"/>
<rect x="1923" y="714" width="1" height="17" fill="#000"/>
<rect x="1922" y="713" width="3" height="1" fill="#000"/>
<rect x="1928" y="700" width="1" height="9" fill="#000"/>
<rect x="1928" y="714" width="1" height="12" fill="#000"/>
<rect x="1927.5" y="709.5" width="2" height="4" fill="none" stroke="#000" stroke-width="1"/>
<rect x="1933" y="658" width="1" height="16" fill="#000"/>
<rect x="1932.5" y="674.5" width="2" height="35" fill="none" stroke="#000" stroke-width="1"/>
<rect x="1937" y="659" width="1" height="14" fill="#000"/>
<rect x="1937" y="676" width="1" height="19" fill="#000"/>
<rect x="1936.5" y="673.5" width="2" height="2" fill="none" stroke="#000" stroke-width="1"/>
<rect x="1942" y="629" width="1" height="9" fill="#000"/>
<rect x="1942" y="669" width="1" height="10" fill="#000"/>
<rect x="1941.5" y="638.5" width="2" height="30" fill="none" stroke="#000" stroke-width="1"/>
<rect x="1946" y="598" width="1" height="12" fill="#000"/>
<rect x="1946" y="635" width="1" height="12" fill="#000"/>
<rect x="1945.5" y="610.5" width="2" height="24" fill="none" stroke="#000" stroke-width="1"/>
<rect x="1950" y="605" width="3" height="41" fill="#000"/>
<rect x="1955" y="581" width="1" height="7" fill="#000"/>
<rect x="1955" y="646" width="1" height="4" fill="#000"/>
<rect x="1954.5" y="588.5" width="2" height="57" fill="none" stroke="#000" stroke-width="1"/>
<rect x="1960" y="570" width="1" height="6" fill="#000"/>
<rect x="1960" y="587" width="1" height="18" fill="#000"/>
<rect x="1959.5" y="576.5" width="2" height="10" fill="none" stroke="#000" stroke-width="1"/>
<rect x="1965" y="517" width="1" height="17" fill="#000"/>
<rect x="1964.5" y="534.5" width="2" height="38" fill="none" stroke="#000" stroke-width="1"/>
<rect x="1969" y="531" width="1" height="4" fill="#000"/>
<rect x="1968" y="535" width="3" height="46" fill="#000"/>
<rect x="1974" y="545" width="1" height="2" fill="#000"/>
<rect x="1974" y="578" width="1" height="13" fill="#000"/>
<rect x="1973.5" y="547.5" width="2" height="30" fill="none" stroke="#000" stroke-width="1"/>
<rect x="1978" y="517" width="1" height="30" fill="#000"/>
<rect x="1978" y="549" width="1" height="21" fill="#000"/>
<rect x="1977" y="547" width="3" height="2" fill="#000"/>
<rect x="1983" y="510" width="1" height="38" fill="#000"/>
<rect x="1983" y="552" width="1" height="7" fill="#000"/>
<rect x="1982" y="548" width="3" height="4" fill="#000"/>
<rect x="1987" y="533" width="1" height="21" fill="#000"/>
<rect x="1987" y="573" width="1" height="12" fill="#000"/>
<rect x="1986" y="554" width="3" height="19" fill="#000"/>
<rect x="1992" y="558" width="1" height="16" fill="#000"/>
<rect x="1992" y="596" width="1" height="7" fill="#000"/>
<rect x="1991" y="574" width="3" height="22" fill="#000"/>
<rect x="1997" y="543" width="1" height="4" fill="#000"/>
<rect x="1997" y="599" width="1" height="21" fill="#000"/>
<rect x="1996.5" y="547.5" width="2" height="51" fill="none" stroke="#000" stroke-width="1"/>
<rect x="2001" y="598" width="1" height="34" fill="#000"/>
<rect x="2000" y="547" width="3" height="51" fill="#000"/>
<rect x="2006" y="588" width="1" height="5" fill="#000"/>
<rect x="2006" y="647" width="1" height="8" fill="#000"/>
<rect x="2005" y="593" width="3" height="54" fill="#000"/>
<rect x="2010" y="417" width="1" height="37" fill="#000"/>
<rect x="2009.5" y="454.5" width="2" height="164" fill="none" stroke="#000" stroke-width="1"/>
<rect x="2015" y="439" width="1" height="11" fill="#000"/>
<rect x="2015" y="543" width="1" height="19" fill="#000"/>
<rect x="2014" y="450" width="3" height="93" fill="#000"/>
<rect x="2019" y="444" width="1" height="29" fill="#000"/>
<rect x="2019" y="533" width="1" height="11" fill="#000"/>
<rect x="2018.5" y="473.5" width="2" height="59" fill="none" stroke="#000" stroke-width="1"/>
<rect x="2024" y="386" width="1" height="23" fill="#000"/>
<rect x="2024" y="474" width="1" height="1" fill="#000"/>
<rect x="2023.5" y="409.5" width="2" height="64" fill="none" stroke="#000" stroke-width="1"/>
<rect x="2029" y="332" width="1" height="24" fill="#000"/>
<rect x="2028.5" y="356.5" width="2" height="55" fill="none" stroke="#000" stroke-width="1"/>
<rect x="2033" y="290" width="1" height="6" fill="#000"/>
<rect x="2033" y="350" width="1" height="35" fill="#000"/>
<rect x="2032.5" y="296.5" width="2" height="53" fill="none" stroke="#000" stroke-width="1"/>
<rect x="2038" y="229" width="1" height="23" fill="#000"/>
<rect x="2038" y="295" width="1" height="13" fill="#000"/>
<rect x="2037.5" y="252.5" width="2" height="42" fill="none" stroke="#000" stroke-width="1"/>
<rect x="2042" y="241" width="1" height="7" fill="#000"/>
<rect x="2042" y="274" width="1" height="40" fill="#000"/>
<rect x="2041" y="248" width="3" height="26" fill="#000"/>
<rect x="2047" y="258" width="1" height="16" fill="#000"/>
<rect x="2047" y="326" width="1" height="11" fill="#000"/>
<rect x="2046" y="274" width="3" height="52" fill="#000"/>
<rect x="2051" y="279" width="1" height="43" fill="#000"/>
<rect x="2051" y="334" width="1" height="5" fill="#000"/>
<rect x="2050" y="322" width="3" height="12" fill="#000"/>
<rect x="2056" y="246" width="1" height="33" fill="#000"/>
<rect x="2055.5" y="279.5" width="2" height="58" fill="none" stroke="#000" stroke-width="1"/>
<rect x="2060" y="218" width="1" height="15" fill="#000"/>
<rect x="2060" y="283" width="1" height="16" fill="#000"/>
<rect x="2059.5" y="233.5" width="2" height="49" fill="none" stroke="#000" stroke-width="1"/>
<rect x="2065" y="113" width="1" height="67" fill="#000"/>
<rect x="2065" y="230" width="1" height="15" fill="#000"/>
<rect x="2064.5" y="180.5" width="2" height="49" fill="none" stroke="#000" stroke-width="1"/>
<rect x="2070" y="256" width="1" height="29" fill="#000"/>
<rect x="2069" y="180" width="3" height="76" fill="#000"/>
<rect x="2074" y="178" width="1" height="2" fill="#000"/>
<rect x="2074" y="252" width="1" height="43" fill="#000"/>
<rect x="2073" y="180" width="3" height="72" fill="#000"/>
<rect x="2079" y="245" width="1" height="12" fill="#000"/>
<rect x="2079" y="351" width="1" height="18" fill="#000"/>
<rect x="2078" y="257" width="3" height="94" fill="#000"/>
<rect x="2083" y="304" width="1" height="30" fill="#000"/>
<rect x="2083" y="336" width="1" height="4" fill="#000"/>
<rect x="2082" y="334" width="3" height="2" fill="#000"/>
<rect x="2088" y="337" width="1" height="21" fill="#000"/>
<rect x="2088" y="378" width="1" height="19" fill="#000"/>
<rect x="2087" y="358" width="3" height="20" fill="#000"/>
</g>
</g>
<text x="2341.5" y="368.9" font-size="12" fill="#2962ff" font-weight="normal" text-anchor="start" textLength="42.0" lengthAdjust="spacingAndGlyphs">Support</text>
<text x="2341.5" y="405.8" font-size="12" fill="#2962ff" font-weight="normal" text-anchor="start" textLength="42.0" lengthAdjust="spacingAndGlyphs">Support</text>
<text x="2341.5" y="574.8" font-size="12" fill="#2962ff" font-weight="normal" text-anchor="start" textLength="42.0" lengthAdjust="spacingAndGlyphs">Support</text>
<text x="2341.5" y="717.8" font-size="12" fill="#2962ff" font-weight="normal" text-anchor="start" textLength="42.0" lengthAdjust="spacingAndGlyphs">Support</text>
<text x="2341.5" y="833.8" font-size="12" fill="#2962ff" font-weight="normal" text-anchor="start" textLength="42.0" lengthAdjust="spacingAndGlyphs">Support</text>
<text x="2341.5" y="969.9" font-size="12" fill="#2962ff" font-weight="normal" text-anchor="start" textLength="42.0" lengthAdjust="spacingAndGlyphs">Support</text>
<path d="M1922.6,479.3 L1860.6,479.3 A7.5,7.5 0 0 1 1853.1,471.8 L1853.1,443.3 A7.5,7.5 0 0 1 1860.6,435.8 L1922.4,435.8 A7.5,7.5 0 0 1 1929.9,443.3 L1929.9,471.0 L1977.1,494.9 Z" fill="rgba(33,150,243,0.7)" stroke="#2fa3c9" stroke-width="1.8" stroke-linejoin="round"/>
<text x="1863.0" y="454.3" font-size="12" fill="#fff" font-weight="normal" text-anchor="start" textLength="53.5" lengthAdjust="spacingAndGlyphs" stroke="#fff" stroke-width="0.45">Ascending</text>
<text x="1863.0" y="466.0" font-size="12" fill="#fff" font-weight="normal" text-anchor="start" textLength="41.8" lengthAdjust="spacingAndGlyphs" stroke="#fff" stroke-width="0.45">channel</text>
<path d="M1791.2,542.9 L1791.2,526.3 A7.5,7.5 0 0 1 1798.7,518.8 L1866.0,518.8 A7.5,7.5 0 0 1 1873.5,526.3 L1873.5,542.6 A7.5,7.5 0 0 1 1866.0,550.1 L1798.4,550.1 L1779.7,582.1 Z" fill="rgba(33,150,243,0.7)" stroke="#2fa3c9" stroke-width="1.8" stroke-linejoin="round"/>
<text x="1800.9" y="537.7" font-size="12" fill="#fff" font-weight="normal" text-anchor="start" textLength="62.9" lengthAdjust="spacingAndGlyphs" stroke="#fff" stroke-width="0.45">Death Cross</text>
<path d="M1592.5,595.1 L1592.5,612.4 A7.5,7.5 0 0 1 1585.0,619.9 L1512.8,619.9 A7.5,7.5 0 0 1 1505.3,612.4 L1505.3,596.5 A7.5,7.5 0 0 1 1512.8,589.0 L1584.4,589.0 L1604.0,528.7 Z" fill="rgba(33,150,243,0.7)" stroke="#2fa3c9" stroke-width="1.8" stroke-linejoin="round"/>
<text x="1515.0" y="607.8" font-size="12" fill="#fff" font-weight="normal" text-anchor="start" textLength="68.6" lengthAdjust="spacingAndGlyphs" stroke="#fff" stroke-width="0.45">200-Day SMA</text>
<path d="M2100.7,600.7 L2175.0,600.7 A7.5,7.5 0 0 1 2182.5,608.2 L2182.5,624.4 A7.5,7.5 0 0 1 2175.0,631.9 L2101.2,631.9 A7.5,7.5 0 0 1 2093.7,624.4 L2093.7,607.3 L2086.7,581.8 Z" fill="rgba(33,150,243,0.7)" stroke="#2fa3c9" stroke-width="1.8" stroke-linejoin="round"/>
<text x="2103.2" y="619.6" font-size="12" fill="#fff" font-weight="normal" text-anchor="start" textLength="69.8" lengthAdjust="spacingAndGlyphs" stroke="#fff" stroke-width="0.45">Golden Cross</text>
<path d="M2046.5,774.3 L2111.8,774.3 A7.5,7.5 0 0 1 2119.3,781.8 L2119.3,797.8 A7.5,7.5 0 0 1 2111.8,805.3 L2045.7,805.3 A7.5,7.5 0 0 1 2038.2,797.8 L2038.2,781.4 L2021.4,766.3 Z" fill="rgba(33,150,243,0.7)" stroke="#2fa3c9" stroke-width="1.8" stroke-linejoin="round"/>
<text x="2048.0" y="793.3" font-size="12" fill="#fff" font-weight="normal" text-anchor="start" textLength="61.9" lengthAdjust="spacingAndGlyphs" stroke="#fff" stroke-width="0.45">50-Day SMA</text>
<text x="1238.9" y="20.2" font-size="12" fill="#4c505b" font-weight="normal" text-anchor="start" textLength="69.6" lengthAdjust="spacingAndGlyphs">DXY, 1D, TVC</text>
<text x="1316.2" y="20.2" font-size="12" fill="#4c505b" font-weight="normal" text-anchor="start" textLength="7.2" lengthAdjust="spacingAndGlyphs">O</text>
<text x="1325.1" y="20.2" font-size="12" fill="#131722" font-weight="normal" text-anchor="start" textLength="41.1" lengthAdjust="spacingAndGlyphs">105.948</text>
<text x="1373.6" y="20.2" font-size="12" fill="#4c505b" font-weight="normal" text-anchor="start" textLength="7.2" lengthAdjust="spacingAndGlyphs">H</text>
<text x="1382.5" y="20.2" font-size="12" fill="#131722" font-weight="normal" text-anchor="start" textLength="40.8" lengthAdjust="spacingAndGlyphs">106.128</text>
<text x="1431.3" y="20.2" font-size="12" fill="#4c505b" font-weight="normal" text-anchor="start" textLength="4.8" lengthAdjust="spacingAndGlyphs">L</text>
<text x="1437.7" y="20.2" font-size="12" fill="#131722" font-weight="normal" text-anchor="start" textLength="40.8" lengthAdjust="spacingAndGlyphs">105.615</text>
<text x="1486.2" y="20.2" font-size="12" fill="#4c505b" font-weight="normal" text-anchor="start" textLength="6.8" lengthAdjust="spacingAndGlyphs">C</text>
<text x="1494.4" y="20.2" font-size="12" fill="#131722" font-weight="normal" text-anchor="start" textLength="40.6" lengthAdjust="spacingAndGlyphs">105.782</text>
<text x="1543.6" y="20.2" font-size="12" fill="#131722" font-weight="normal" text-anchor="start" textLength="83.6" lengthAdjust="spacingAndGlyphs">−0.368 (−0.35%)</text>
<text x="1238.9" y="36.8" font-size="12" fill="#4c505b" font-weight="normal" text-anchor="start" textLength="15.1" lengthAdjust="spacingAndGlyphs">MA</text>
<text x="1262.6" y="36.8" font-size="12" fill="#2962ff" font-weight="normal" text-anchor="start" textLength="41.1" lengthAdjust="spacingAndGlyphs">104.017</text>
<text x="1238.9" y="54.0" font-size="12" fill="#4c505b" font-weight="normal" text-anchor="start" textLength="21.1" lengthAdjust="spacingAndGlyphs">SMA</text>
<text x="1268.0" y="54.0" font-size="12" fill="#f23645" font-weight="normal" text-anchor="start" textLength="41.2" lengthAdjust="spacingAndGlyphs">104.042</text>
<g shape-rendering="crispEdges">
<rect x="2394" y="3" width="1" height="1142" fill="#3c404b"/>
<rect x="1232" y="1118" width="1219" height="1" fill="#3c404b"/>
</g>
<text x="2403.6" y="68.3" font-size="12" fill="#4c505b" font-weight="normal" text-anchor="start" textLength="42.0" lengthAdjust="spacingAndGlyphs">108.500</text>
<text x="2403.6" y="126.1" font-size="12" fill="#4c505b" font-weight="normal" text-anchor="start" textLength="42.0" lengthAdjust="spacingAndGlyphs">108.000</text>
<text x="2403.6" y="183.9" font-size="12" fill="#4c505b" font-weight="normal" text-anchor="start" textLength="42.0" lengthAdjust="spacingAndGlyphs">107.500</text>
<text x="2403.6" y="241.7" font-size="12" fill="#4c505b" font-weight="normal" text-anchor="start" textLength="42.0" lengthAdjust="spacingAndGlyphs">107.000</text>
<text x="2403.6" y="299.5" font-size="12" fill="#4c505b" font-weight="normal" text-anchor="start" textLength="42.0" lengthAdjust="spacingAndGlyphs">106.500</text>
<text x="2403.6" y="357.3" font-size="12" fill="#4c505b" font-weight="normal" text-anchor="start" textLength="42.0" lengthAdjust="spacingAndGlyphs">106.000</text>
<text x="2403.6" y="415.1" font-size="12" fill="#4c505b" font-weight="normal" text-anchor="start" textLength="42.0" lengthAdjust="spacingAndGlyphs">105.500</text>
<text x="2403.6" y="472.9" font-size="12" fill="#4c505b" font-weight="normal" text-anchor="start" textLength="42.0" lengthAdjust="spacingAndGlyphs">105.000</text>
<text x="2403.6" y="530.7" font-size="12" fill="#4c505b" font-weight="normal" text-anchor="start" textLength="42.0" lengthAdjust="spacingAndGlyphs">104.500</text>
<text x="2403.6" y="588.5" font-size="12" fill="#4c505b" font-weight="normal" text-anchor="start" textLength="42.0" lengthAdjust="spacingAndGlyphs">104.000</text>
<text x="2403.6" y="646.4" font-size="12" fill="#4c505b" font-weight="normal" text-anchor="start" textLength="42.0" lengthAdjust="spacingAndGlyphs">103.500</text>
<text x="2403.6" y="704.2" font-size="12" fill="#4c505b" font-weight="normal" text-anchor="start" textLength="42.0" lengthAdjust="spacingAndGlyphs">103.000</text>
<text x="2403.6" y="762.0" font-size="12" fill="#4c505b" font-weight="normal" text-anchor="start" textLength="42.0" lengthAdjust="spacingAndGlyphs">102.500</text>
<text x="2403.6" y="819.8" font-size="12" fill="#4c505b" font-weight="normal" text-anchor="start" textLength="42.0" lengthAdjust="spacingAndGlyphs">102.000</text>
<text x="2403.6" y="877.6" font-size="12" fill="#4c505b" font-weight="normal" text-anchor="start" textLength="42.0" lengthAdjust="spacingAndGlyphs">101.500</text>
<text x="2403.6" y="935.4" font-size="12" fill="#4c505b" font-weight="normal" text-anchor="start" textLength="42.0" lengthAdjust="spacingAndGlyphs">101.000</text>
<text x="2403.6" y="993.2" font-size="12" fill="#4c505b" font-weight="normal" text-anchor="start" textLength="42.0" lengthAdjust="spacingAndGlyphs">100.500</text>
<text x="2403.6" y="1051.0" font-size="12" fill="#4c505b" font-weight="normal" text-anchor="start" textLength="42.0" lengthAdjust="spacingAndGlyphs">100.000</text>
<text x="2403.6" y="1108.8" font-size="12" fill="#4c505b" font-weight="normal" text-anchor="start" textLength="35.6" lengthAdjust="spacingAndGlyphs">99.500</text>
<path d="M2398,5 h53 v26 h-53 a4,4 0 0 1 -4,-4 v-18 a4,4 0 0 1 4,-4 z" fill="#fff" stroke="#e6e8ee" stroke-width="1.3"/>
<text x="2407.0" y="23.2" font-size="12" fill="#131722" font-weight="normal" text-anchor="start" textLength="21.5" lengthAdjust="spacingAndGlyphs">USD</text>
<rect x="2395" y="367.0" width="58" height="16.8" rx="2" fill="#2962ff"/><rect x="2395" y="367.0" width="4" height="16.8" fill="#2962ff"/>
<text x="2403.6" y="379.7" font-size="12" fill="#fff" font-weight="normal" text-anchor="start" textLength="42.0" lengthAdjust="spacingAndGlyphs" stroke="#fff" stroke-width="0.5">105.802</text>
<rect x="2395" y="404.0" width="58" height="16.8" rx="2" fill="#2962ff"/><rect x="2395" y="404.0" width="4" height="16.8" fill="#2962ff"/>
<text x="2403.6" y="416.7" font-size="12" fill="#fff" font-weight="normal" text-anchor="start" textLength="42.0" lengthAdjust="spacingAndGlyphs" stroke="#fff" stroke-width="0.5">105.482</text>
<rect x="2395" y="573.0" width="58" height="16.8" rx="2" fill="#2962ff"/><rect x="2395" y="573.0" width="4" height="16.8" fill="#2962ff"/>
<text x="2403.6" y="585.7" font-size="12" fill="#fff" font-weight="normal" text-anchor="start" textLength="42.0" lengthAdjust="spacingAndGlyphs" stroke="#fff" stroke-width="0.5">104.020</text>
<rect x="2395" y="716.1" width="58" height="16.8" rx="2" fill="#2962ff"/><rect x="2395" y="716.1" width="4" height="16.8" fill="#2962ff"/>
<text x="2403.6" y="728.8" font-size="12" fill="#fff" font-weight="normal" text-anchor="start" textLength="42.0" lengthAdjust="spacingAndGlyphs" stroke="#fff" stroke-width="0.5">102.783</text>
<rect x="2395" y="832.5" width="58" height="16.8" rx="2" fill="#2962ff"/><rect x="2395" y="832.5" width="4" height="16.8" fill="#2962ff"/>
<text x="2403.6" y="845.2" font-size="12" fill="#fff" font-weight="normal" text-anchor="start" textLength="42.0" lengthAdjust="spacingAndGlyphs" stroke="#fff" stroke-width="0.5">101.776</text>
<rect x="2395" y="968.0" width="58" height="16.8" rx="2" fill="#2962ff"/><rect x="2395" y="968.0" width="4" height="16.8" fill="#2962ff"/>
<text x="2403.6" y="980.7" font-size="12" fill="#fff" font-weight="normal" text-anchor="start" textLength="42.0" lengthAdjust="spacingAndGlyphs" stroke="#fff" stroke-width="0.5">100.604</text>
<text x="1293.6" y="1136.0" font-size="12" fill="#4c505b" font-weight="normal" text-anchor="middle" textLength="18.5" lengthAdjust="spacingAndGlyphs">Apr</text>
<text x="1393.8" y="1136.0" font-size="12" fill="#4c505b" font-weight="normal" text-anchor="middle" textLength="20.4" lengthAdjust="spacingAndGlyphs">May</text>
<text x="1499.2" y="1136.0" font-size="12" fill="#4c505b" font-weight="normal" text-anchor="middle" textLength="18.3" lengthAdjust="spacingAndGlyphs">Jun</text>
<text x="1590.5" y="1136.0" font-size="12" fill="#4c505b" font-weight="normal" text-anchor="middle" textLength="15.2" lengthAdjust="spacingAndGlyphs">Jul</text>
<text x="1695.4" y="1136.0" font-size="12" fill="#4c505b" font-weight="normal" text-anchor="middle" textLength="18.9" lengthAdjust="spacingAndGlyphs">Aug</text>
<text x="1795.8" y="1136.0" font-size="12" fill="#4c505b" font-weight="normal" text-anchor="middle" textLength="18.5" lengthAdjust="spacingAndGlyphs">Sep</text>
<text x="1891.7" y="1136.0" font-size="12" fill="#4c505b" font-weight="normal" text-anchor="middle" textLength="18.5" lengthAdjust="spacingAndGlyphs">Oct</text>
<text x="1997.0" y="1136.0" font-size="12" fill="#4c505b" font-weight="normal" text-anchor="middle" textLength="19.7" lengthAdjust="spacingAndGlyphs">Nov</text>
<text x="2092.6" y="1136.0" font-size="12" fill="#4c505b" font-weight="normal" text-anchor="middle" textLength="19.6" lengthAdjust="spacingAndGlyphs">Dec</text>
<text x="2188.5" y="1136.0" font-size="12" fill="#4c505b" font-weight="normal" text-anchor="middle" textLength="27.0" lengthAdjust="spacingAndGlyphs" stroke="#4c505b" stroke-width="0.5">2025</text>
<text x="2284.4" y="1136.0" font-size="12" fill="#4c505b" font-weight="normal" text-anchor="middle" textLength="19.5" lengthAdjust="spacingAndGlyphs">Feb</text>
<text x="2370.9" y="1136.0" font-size="12" fill="#4c505b" font-weight="normal" text-anchor="middle" textLength="19.2" lengthAdjust="spacingAndGlyphs">Mar</text>
</svg></body></html>
